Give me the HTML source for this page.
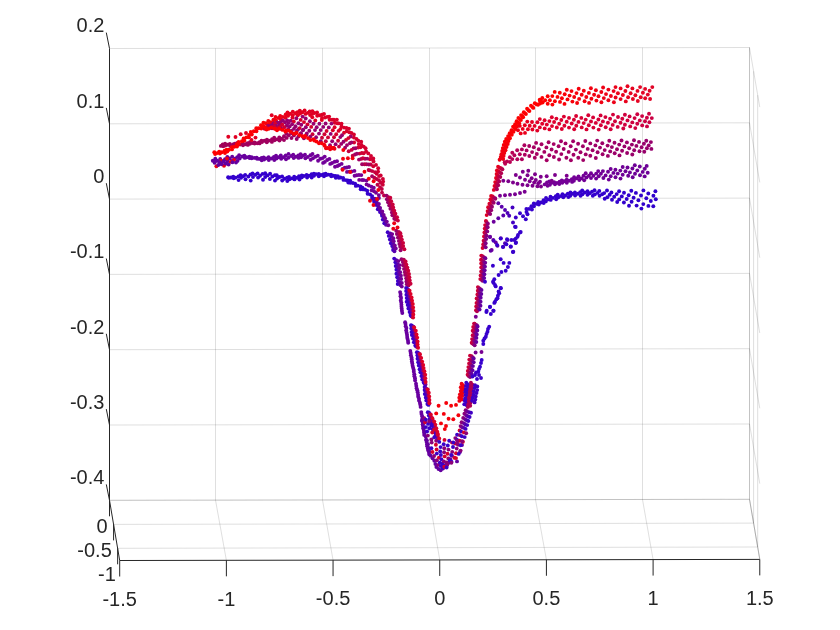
<!DOCTYPE html>
<html><head><meta charset="utf-8"><title>3D scatter plot</title>
<style>
html,body{margin:0;padding:0;background:#fff;}
svg{display:block;}
text{font-family:"Liberation Sans",Arial,Helvetica,sans-serif;font-size:20px;fill:#262626;}
</style></head><body>
<svg width="840" height="630" viewBox="0 0 840 630">
<rect width="840" height="630" fill="#ffffff"/>
<g id="frame" shape-rendering="auto">
<line x1="215.50" y1="48.33" x2="215.50" y2="500.13" stroke="#262626" stroke-width="1" stroke-opacity="0.15"/>
<line x1="322.50" y1="48.17" x2="322.50" y2="499.97" stroke="#262626" stroke-width="1" stroke-opacity="0.15"/>
<line x1="429.50" y1="48.00" x2="429.50" y2="499.80" stroke="#262626" stroke-width="1" stroke-opacity="0.15"/>
<line x1="535.50" y1="47.83" x2="535.50" y2="499.63" stroke="#262626" stroke-width="1" stroke-opacity="0.15"/>
<line x1="642.50" y1="47.67" x2="642.50" y2="499.47" stroke="#262626" stroke-width="1" stroke-opacity="0.15"/>
<line x1="749.50" y1="47.50" x2="749.50" y2="499.30" stroke="#262626" stroke-width="1" stroke-opacity="0.15"/>
<line x1="109.50" y1="48.50" x2="749.50" y2="47.50" stroke="#262626" stroke-width="1" stroke-opacity="0.15"/>
<line x1="109.50" y1="123.80" x2="749.50" y2="122.80" stroke="#262626" stroke-width="1" stroke-opacity="0.15"/>
<line x1="109.50" y1="199.10" x2="749.50" y2="198.10" stroke="#262626" stroke-width="1" stroke-opacity="0.15"/>
<line x1="109.50" y1="274.40" x2="749.50" y2="273.40" stroke="#262626" stroke-width="1" stroke-opacity="0.15"/>
<line x1="109.50" y1="349.70" x2="749.50" y2="348.70" stroke="#262626" stroke-width="1" stroke-opacity="0.15"/>
<line x1="109.50" y1="425.00" x2="749.50" y2="424.00" stroke="#262626" stroke-width="1" stroke-opacity="0.15"/>
<line x1="109.50" y1="500.30" x2="749.50" y2="499.30" stroke="#262626" stroke-width="1" stroke-opacity="0.15"/>
<line x1="113.58" y1="524.40" x2="753.58" y2="523.10" stroke="#262626" stroke-width="1" stroke-opacity="0.15"/>
<line x1="117.63" y1="548.30" x2="757.63" y2="547.00" stroke="#262626" stroke-width="1" stroke-opacity="0.15"/>
<line x1="215.50" y1="500.13" x2="226.38" y2="560.32" stroke="#262626" stroke-width="1" stroke-opacity="0.15"/>
<line x1="322.50" y1="499.97" x2="333.06" y2="560.13" stroke="#262626" stroke-width="1" stroke-opacity="0.15"/>
<line x1="429.50" y1="499.80" x2="439.74" y2="559.95" stroke="#262626" stroke-width="1" stroke-opacity="0.15"/>
<line x1="535.50" y1="499.63" x2="546.42" y2="559.77" stroke="#262626" stroke-width="1" stroke-opacity="0.15"/>
<line x1="642.50" y1="499.47" x2="653.10" y2="559.58" stroke="#262626" stroke-width="1" stroke-opacity="0.15"/>
<line x1="749.50" y1="499.30" x2="759.78" y2="559.40" stroke="#262626" stroke-width="1" stroke-opacity="0.15"/>
<line x1="109.50" y1="500.30" x2="749.50" y2="499.30" stroke="#262626" stroke-width="1" stroke-opacity="0.15"/>
<line x1="749.50" y1="47.50" x2="749.50" y2="499.30" stroke="#262626" stroke-width="1" stroke-opacity="0.15"/>
<line x1="749.50" y1="499.30" x2="759.78" y2="559.40" stroke="#262626" stroke-width="1" stroke-opacity="0.15"/>
<line x1="749.50" y1="47.50" x2="759.78" y2="107.10" stroke="#262626" stroke-width="1" stroke-opacity="0.15"/>
<line x1="749.50" y1="122.80" x2="759.78" y2="182.40" stroke="#262626" stroke-width="1" stroke-opacity="0.15"/>
<line x1="749.50" y1="198.10" x2="759.78" y2="257.70" stroke="#262626" stroke-width="1" stroke-opacity="0.15"/>
<line x1="749.50" y1="273.40" x2="759.78" y2="333.00" stroke="#262626" stroke-width="1" stroke-opacity="0.15"/>
<line x1="749.50" y1="348.70" x2="759.78" y2="408.30" stroke="#262626" stroke-width="1" stroke-opacity="0.15"/>
<line x1="749.50" y1="424.00" x2="759.78" y2="483.60" stroke="#262626" stroke-width="1" stroke-opacity="0.15"/>
<line x1="749.50" y1="499.30" x2="759.78" y2="558.90" stroke="#262626" stroke-width="1" stroke-opacity="0.15"/>
<line x1="753.58" y1="71.34" x2="753.58" y2="523.14" stroke="#262626" stroke-width="1" stroke-opacity="0.15"/>
<line x1="757.66" y1="95.18" x2="757.66" y2="546.98" stroke="#262626" stroke-width="1" stroke-opacity="0.15"/>
<line x1="109.50" y1="48.50" x2="109.50" y2="500.30" stroke="#262626" stroke-width="1"/>
<line x1="109.50" y1="500.30" x2="119.70" y2="560.50" stroke="#262626" stroke-width="1"/>
<line x1="119.70" y1="560.50" x2="759.78" y2="559.40" stroke="#262626" stroke-width="1"/>
<line x1="109.50" y1="48.50" x2="106.30" y2="32.60" stroke="#262626" stroke-width="1"/>
<line x1="109.50" y1="123.80" x2="106.30" y2="107.90" stroke="#262626" stroke-width="1"/>
<line x1="109.50" y1="199.10" x2="106.30" y2="183.20" stroke="#262626" stroke-width="1"/>
<line x1="109.50" y1="274.40" x2="106.30" y2="258.50" stroke="#262626" stroke-width="1"/>
<line x1="109.50" y1="349.70" x2="106.30" y2="333.80" stroke="#262626" stroke-width="1"/>
<line x1="109.50" y1="425.00" x2="106.30" y2="409.10" stroke="#262626" stroke-width="1"/>
<line x1="109.50" y1="500.30" x2="106.30" y2="484.40" stroke="#262626" stroke-width="1"/>
<line x1="109.50" y1="500.30" x2="109.50" y2="516.30" stroke="#262626" stroke-width="1"/>
<line x1="113.58" y1="524.40" x2="113.58" y2="540.40" stroke="#262626" stroke-width="1"/>
<line x1="117.63" y1="548.30" x2="117.63" y2="564.30" stroke="#262626" stroke-width="1"/>
<line x1="119.70" y1="560.50" x2="119.70" y2="576.50" stroke="#262626" stroke-width="1"/>
<line x1="226.38" y1="560.32" x2="226.38" y2="576.32" stroke="#262626" stroke-width="1"/>
<line x1="333.06" y1="560.13" x2="333.06" y2="576.13" stroke="#262626" stroke-width="1"/>
<line x1="439.74" y1="559.95" x2="439.74" y2="575.95" stroke="#262626" stroke-width="1"/>
<line x1="546.42" y1="559.77" x2="546.42" y2="575.77" stroke="#262626" stroke-width="1"/>
<line x1="653.10" y1="559.58" x2="653.10" y2="575.58" stroke="#262626" stroke-width="1"/>
<line x1="759.78" y1="559.40" x2="759.78" y2="575.40" stroke="#262626" stroke-width="1"/>
<text x="104.4" y="32.4" text-anchor="end">0.2</text>
<text x="104.4" y="107.7" text-anchor="end">0.1</text>
<text x="104.4" y="183.0" text-anchor="end">0</text>
<text x="104.4" y="258.3" text-anchor="end">-0.1</text>
<text x="104.4" y="333.6" text-anchor="end">-0.2</text>
<text x="104.4" y="408.9" text-anchor="end">-0.3</text>
<text x="104.4" y="484.2" text-anchor="end">-0.4</text>
<text x="107.7" y="532.8" text-anchor="end">0</text>
<text x="111.8" y="556.9" text-anchor="end">-0.5</text>
<text x="115.8" y="580.8" text-anchor="end">-1</text>
<text x="119.7" y="605.6" text-anchor="middle">-1.5</text>
<text x="226.4" y="605.5" text-anchor="middle">-1</text>
<text x="333.1" y="605.3" text-anchor="middle">-0.5</text>
<text x="439.7" y="605.2" text-anchor="middle">0</text>
<text x="546.4" y="605.1" text-anchor="middle">0.5</text>
<text x="653.1" y="604.9" text-anchor="middle">1</text>
<text x="759.8" y="604.8" text-anchor="middle">1.5</text>
</g>
<g id="dots">
<circle cx="542.3" cy="98.0" r="1.95" fill="#fe0001"/>
<circle cx="554.7" cy="91.9" r="1.95" fill="#fb0004"/>
<circle cx="566.8" cy="89.7" r="1.95" fill="#f80008"/>
<circle cx="578.7" cy="88.8" r="1.95" fill="#f5000c"/>
<circle cx="590.9" cy="88.3" r="1.95" fill="#f20110"/>
<circle cx="603.1" cy="87.5" r="1.95" fill="#ee0215"/>
<circle cx="615.5" cy="87.1" r="1.95" fill="#eb021a"/>
<circle cx="627.5" cy="86.3" r="1.95" fill="#e8031f"/>
<circle cx="640.1" cy="87.1" r="1.95" fill="#e40423"/>
<circle cx="652.3" cy="87.1" r="1.95" fill="#e10528"/>
<circle cx="547.7" cy="96.2" r="1.95" fill="#fd0002"/>
<circle cx="559.8" cy="92.8" r="1.95" fill="#fa0006"/>
<circle cx="571.5" cy="91.1" r="1.95" fill="#f7000a"/>
<circle cx="583.8" cy="90.8" r="1.95" fill="#f4000e"/>
<circle cx="595.9" cy="90.3" r="1.95" fill="#f10112"/>
<circle cx="608.4" cy="89.6" r="1.95" fill="#ed0217"/>
<circle cx="620.6" cy="88.4" r="1.95" fill="#ea031c"/>
<circle cx="632.4" cy="88.4" r="1.95" fill="#e60421"/>
<circle cx="645.1" cy="88.9" r="1.95" fill="#e30525"/>
<circle cx="540.0" cy="100.9" r="1.95" fill="#ff0000"/>
<circle cx="552.3" cy="96.1" r="1.95" fill="#fc0004"/>
<circle cx="564.7" cy="94.2" r="1.95" fill="#f90007"/>
<circle cx="576.5" cy="93.1" r="1.95" fill="#f6000b"/>
<circle cx="588.9" cy="92.9" r="1.95" fill="#f3010f"/>
<circle cx="601.3" cy="92.0" r="1.95" fill="#ef0114"/>
<circle cx="613.6" cy="91.1" r="1.95" fill="#ec0219"/>
<circle cx="625.4" cy="91.0" r="1.95" fill="#e8031e"/>
<circle cx="637.5" cy="90.9" r="1.95" fill="#e50422"/>
<circle cx="649.6" cy="90.7" r="1.95" fill="#e20527"/>
<circle cx="545.2" cy="100.3" r="1.95" fill="#fe0002"/>
<circle cx="557.5" cy="96.9" r="1.95" fill="#fb0005"/>
<circle cx="569.6" cy="95.6" r="1.95" fill="#f80009"/>
<circle cx="581.7" cy="94.8" r="1.95" fill="#f5000d"/>
<circle cx="594.1" cy="94.8" r="1.95" fill="#f10111"/>
<circle cx="606.0" cy="94.1" r="1.95" fill="#ee0216"/>
<circle cx="617.9" cy="93.3" r="1.95" fill="#ea031b"/>
<circle cx="630.6" cy="93.2" r="1.95" fill="#e70420"/>
<circle cx="642.9" cy="92.8" r="1.95" fill="#e40424"/>
<circle cx="549.9" cy="100.2" r="1.95" fill="#fc0003"/>
<circle cx="561.9" cy="98.2" r="1.95" fill="#f90007"/>
<circle cx="574.2" cy="97.0" r="1.95" fill="#f6000a"/>
<circle cx="586.3" cy="97.0" r="1.95" fill="#f3000f"/>
<circle cx="598.5" cy="96.2" r="1.95" fill="#f00113"/>
<circle cx="610.9" cy="96.0" r="1.95" fill="#ec0218"/>
<circle cx="622.9" cy="95.0" r="1.95" fill="#e9031d"/>
<circle cx="635.4" cy="95.3" r="1.95" fill="#e60422"/>
<circle cx="647.8" cy="94.6" r="1.95" fill="#e20526"/>
<circle cx="542.6" cy="102.6" r="1.95" fill="#fe0001"/>
<circle cx="554.9" cy="101.2" r="1.95" fill="#fb0004"/>
<circle cx="567.5" cy="99.4" r="1.95" fill="#f80008"/>
<circle cx="579.1" cy="98.9" r="1.95" fill="#f5000c"/>
<circle cx="591.4" cy="98.7" r="1.95" fill="#f20110"/>
<circle cx="603.8" cy="98.1" r="1.95" fill="#ee0215"/>
<circle cx="615.6" cy="97.5" r="1.95" fill="#eb021a"/>
<circle cx="628.1" cy="97.2" r="1.95" fill="#e8031f"/>
<circle cx="640.7" cy="97.3" r="1.95" fill="#e40423"/>
<circle cx="547.7" cy="103.8" r="1.95" fill="#fd0002"/>
<circle cx="560.0" cy="101.9" r="1.95" fill="#fa0006"/>
<circle cx="572.4" cy="101.6" r="1.95" fill="#f7000a"/>
<circle cx="584.6" cy="101.2" r="1.95" fill="#f4000e"/>
<circle cx="596.4" cy="100.6" r="1.95" fill="#f00112"/>
<circle cx="608.4" cy="100.2" r="1.95" fill="#ed0217"/>
<circle cx="620.6" cy="99.1" r="1.95" fill="#ea031c"/>
<circle cx="632.9" cy="99.0" r="1.95" fill="#e60421"/>
<circle cx="645.2" cy="98.2" r="1.95" fill="#e30525"/>
<circle cx="540.1" cy="103.5" r="1.95" fill="#ff0000"/>
<circle cx="552.4" cy="104.6" r="1.95" fill="#fc0004"/>
<circle cx="564.5" cy="103.9" r="1.95" fill="#f90007"/>
<circle cx="577.1" cy="103.0" r="1.95" fill="#f6000b"/>
<circle cx="589.1" cy="102.9" r="1.95" fill="#f20110"/>
<circle cx="601.4" cy="102.2" r="1.95" fill="#ef0114"/>
<circle cx="613.9" cy="102.3" r="1.95" fill="#ec0219"/>
<circle cx="625.8" cy="101.4" r="1.95" fill="#e8031e"/>
<circle cx="637.8" cy="101.0" r="1.95" fill="#e50423"/>
<circle cx="650.1" cy="99.0" r="1.95" fill="#e10527"/>
<circle cx="539.7" cy="99.8" r="1.95" fill="#ff0000"/>
<circle cx="534.8" cy="103.3" r="1.95" fill="#ff0000"/>
<circle cx="531.0" cy="105.8" r="1.95" fill="#fe0001"/>
<circle cx="527.1" cy="108.7" r="1.95" fill="#fe0001"/>
<circle cx="523.8" cy="112.3" r="1.95" fill="#fe0002"/>
<circle cx="521.1" cy="115.1" r="1.95" fill="#fd0002"/>
<circle cx="518.4" cy="117.9" r="1.95" fill="#fd0002"/>
<circle cx="516.6" cy="121.2" r="1.95" fill="#fc0003"/>
<circle cx="515.1" cy="124.2" r="1.95" fill="#fc0003"/>
<circle cx="513.1" cy="126.8" r="1.95" fill="#fc0003"/>
<circle cx="511.5" cy="130.3" r="1.95" fill="#fb0004"/>
<circle cx="509.7" cy="133.2" r="1.95" fill="#fb0004"/>
<circle cx="508.1" cy="136.1" r="1.95" fill="#fa0004"/>
<circle cx="506.2" cy="139.0" r="1.95" fill="#fa0005"/>
<circle cx="504.8" cy="141.7" r="1.95" fill="#f80006"/>
<circle cx="503.7" cy="144.9" r="1.95" fill="#f60009"/>
<circle cx="502.8" cy="148.1" r="1.95" fill="#f4000b"/>
<circle cx="502.2" cy="151.0" r="1.95" fill="#f2000d"/>
<circle cx="501.4" cy="154.3" r="1.95" fill="#f00010"/>
<circle cx="500.7" cy="156.9" r="1.95" fill="#ed0012"/>
<circle cx="499.6" cy="159.8" r="1.95" fill="#eb0014"/>
<circle cx="540.8" cy="100.8" r="1.95" fill="#ff0000"/>
<circle cx="536.5" cy="104.2" r="1.95" fill="#fe0000"/>
<circle cx="532.5" cy="107.0" r="1.95" fill="#fe0001"/>
<circle cx="528.5" cy="110.2" r="1.95" fill="#fe0001"/>
<circle cx="524.7" cy="113.1" r="1.95" fill="#fd0002"/>
<circle cx="522.4" cy="116.2" r="1.95" fill="#fd0002"/>
<circle cx="519.9" cy="119.0" r="1.95" fill="#fd0002"/>
<circle cx="517.8" cy="122.2" r="1.95" fill="#fc0003"/>
<circle cx="516.1" cy="125.2" r="1.95" fill="#fc0003"/>
<circle cx="514.6" cy="127.9" r="1.95" fill="#fc0004"/>
<circle cx="512.4" cy="131.3" r="1.95" fill="#fb0004"/>
<circle cx="510.8" cy="133.8" r="1.95" fill="#fb0004"/>
<circle cx="508.9" cy="136.8" r="1.95" fill="#fa0005"/>
<circle cx="507.8" cy="140.2" r="1.95" fill="#fa0005"/>
<circle cx="506.1" cy="143.2" r="1.95" fill="#f80007"/>
<circle cx="505.5" cy="146.1" r="1.95" fill="#f6000a"/>
<circle cx="504.1" cy="149.0" r="1.95" fill="#f3000c"/>
<circle cx="503.0" cy="151.7" r="1.95" fill="#f1000e"/>
<circle cx="502.8" cy="155.1" r="1.95" fill="#ef0010"/>
<circle cx="501.8" cy="158.3" r="1.95" fill="#ec0012"/>
<circle cx="542.3" cy="102.2" r="1.95" fill="#ff0000"/>
<circle cx="538.0" cy="104.8" r="1.95" fill="#fe0001"/>
<circle cx="533.3" cy="107.9" r="1.95" fill="#fe0001"/>
<circle cx="529.4" cy="111.1" r="1.95" fill="#fe0001"/>
<circle cx="525.9" cy="114.0" r="1.95" fill="#fd0002"/>
<circle cx="523.1" cy="117.2" r="1.95" fill="#fd0002"/>
<circle cx="520.9" cy="120.0" r="1.95" fill="#fc0002"/>
<circle cx="519.2" cy="123.2" r="1.95" fill="#fc0003"/>
<circle cx="517.2" cy="126.3" r="1.95" fill="#fc0003"/>
<circle cx="515.4" cy="129.0" r="1.95" fill="#fb0004"/>
<circle cx="513.5" cy="131.7" r="1.95" fill="#fb0004"/>
<circle cx="511.8" cy="134.8" r="1.95" fill="#fb0004"/>
<circle cx="510.0" cy="138.2" r="1.95" fill="#fa0005"/>
<circle cx="508.5" cy="141.0" r="1.95" fill="#f90006"/>
<circle cx="507.7" cy="144.0" r="1.95" fill="#f70008"/>
<circle cx="506.5" cy="147.0" r="1.95" fill="#f5000a"/>
<circle cx="505.5" cy="150.2" r="1.95" fill="#f2000c"/>
<circle cx="504.3" cy="153.0" r="1.95" fill="#f0000f"/>
<circle cx="503.6" cy="155.9" r="1.95" fill="#ee0011"/>
<circle cx="503.2" cy="159.0" r="1.95" fill="#ec0013"/>
<circle cx="527.3" cy="121.6" r="1.95" fill="#e9001f"/>
<circle cx="539.8" cy="119.1" r="1.95" fill="#e1002a"/>
<circle cx="551.8" cy="117.3" r="1.95" fill="#df002d"/>
<circle cx="563.9" cy="116.6" r="1.95" fill="#dc0030"/>
<circle cx="576.1" cy="116.0" r="1.95" fill="#da0032"/>
<circle cx="588.3" cy="115.3" r="1.95" fill="#d80035"/>
<circle cx="600.6" cy="115.4" r="1.95" fill="#d50038"/>
<circle cx="613.0" cy="114.6" r="1.95" fill="#d3003b"/>
<circle cx="624.9" cy="114.8" r="1.95" fill="#d0003e"/>
<circle cx="637.3" cy="114.2" r="1.95" fill="#ce0041"/>
<circle cx="649.0" cy="113.7" r="1.95" fill="#cc0043"/>
<circle cx="519.8" cy="125.9" r="1.95" fill="#ed0018"/>
<circle cx="532.0" cy="122.0" r="1.95" fill="#e60023"/>
<circle cx="544.6" cy="120.3" r="1.95" fill="#e0002b"/>
<circle cx="556.4" cy="118.6" r="1.95" fill="#de002e"/>
<circle cx="569.0" cy="117.9" r="1.95" fill="#db0031"/>
<circle cx="581.3" cy="117.9" r="1.95" fill="#d90034"/>
<circle cx="593.1" cy="117.4" r="1.95" fill="#d70036"/>
<circle cx="605.4" cy="117.1" r="1.95" fill="#d40039"/>
<circle cx="618.0" cy="117.0" r="1.95" fill="#d2003c"/>
<circle cx="629.6" cy="116.4" r="1.95" fill="#cf003f"/>
<circle cx="642.1" cy="116.1" r="1.95" fill="#cd0042"/>
<circle cx="524.8" cy="125.2" r="1.95" fill="#ea001d"/>
<circle cx="537.4" cy="122.3" r="1.95" fill="#e30028"/>
<circle cx="549.4" cy="121.1" r="1.95" fill="#df002c"/>
<circle cx="561.3" cy="120.0" r="1.95" fill="#dd002f"/>
<circle cx="573.9" cy="119.8" r="1.95" fill="#da0032"/>
<circle cx="585.7" cy="119.6" r="1.95" fill="#d80035"/>
<circle cx="598.4" cy="119.5" r="1.95" fill="#d60038"/>
<circle cx="610.1" cy="118.8" r="1.95" fill="#d3003a"/>
<circle cx="622.3" cy="118.8" r="1.95" fill="#d1003d"/>
<circle cx="634.6" cy="118.1" r="1.95" fill="#ce0040"/>
<circle cx="646.9" cy="117.8" r="1.95" fill="#cc0043"/>
<circle cx="518.0" cy="130.3" r="1.95" fill="#ee0016"/>
<circle cx="529.7" cy="125.8" r="1.95" fill="#e70021"/>
<circle cx="542.2" cy="123.8" r="1.95" fill="#e1002a"/>
<circle cx="554.1" cy="122.0" r="1.95" fill="#de002d"/>
<circle cx="566.7" cy="121.8" r="1.95" fill="#dc0030"/>
<circle cx="578.5" cy="121.9" r="1.95" fill="#d90033"/>
<circle cx="591.0" cy="121.4" r="1.95" fill="#d70036"/>
<circle cx="602.9" cy="121.4" r="1.95" fill="#d50039"/>
<circle cx="615.0" cy="121.2" r="1.95" fill="#d2003b"/>
<circle cx="627.5" cy="120.4" r="1.95" fill="#d0003e"/>
<circle cx="639.8" cy="120.4" r="1.95" fill="#cd0041"/>
<circle cx="651.8" cy="118.1" r="1.95" fill="#cb0044"/>
<circle cx="522.7" cy="128.9" r="1.95" fill="#eb001b"/>
<circle cx="534.6" cy="125.9" r="1.95" fill="#e40026"/>
<circle cx="546.8" cy="124.6" r="1.95" fill="#e0002c"/>
<circle cx="559.2" cy="123.7" r="1.95" fill="#dd002e"/>
<circle cx="571.7" cy="123.5" r="1.95" fill="#db0031"/>
<circle cx="583.7" cy="123.1" r="1.95" fill="#d80034"/>
<circle cx="595.8" cy="122.9" r="1.95" fill="#d60037"/>
<circle cx="607.9" cy="122.8" r="1.95" fill="#d4003a"/>
<circle cx="620.5" cy="122.8" r="1.95" fill="#d1003d"/>
<circle cx="632.3" cy="122.4" r="1.95" fill="#cf003f"/>
<circle cx="645.0" cy="121.2" r="1.95" fill="#cc0042"/>
<circle cx="527.9" cy="129.2" r="1.95" fill="#e8001f"/>
<circle cx="539.8" cy="127.4" r="1.95" fill="#e1002a"/>
<circle cx="552.0" cy="126.1" r="1.95" fill="#df002d"/>
<circle cx="564.4" cy="125.8" r="1.95" fill="#dc0030"/>
<circle cx="576.3" cy="125.7" r="1.95" fill="#da0032"/>
<circle cx="588.8" cy="125.3" r="1.95" fill="#d70035"/>
<circle cx="600.8" cy="125.2" r="1.95" fill="#d50038"/>
<circle cx="612.7" cy="124.9" r="1.95" fill="#d3003b"/>
<circle cx="624.9" cy="124.8" r="1.95" fill="#d0003e"/>
<circle cx="637.3" cy="123.7" r="1.95" fill="#ce0041"/>
<circle cx="649.4" cy="122.3" r="1.95" fill="#cb0043"/>
<circle cx="520.7" cy="133.4" r="1.95" fill="#ed0019"/>
<circle cx="532.4" cy="129.5" r="1.95" fill="#e50023"/>
<circle cx="544.7" cy="128.4" r="1.95" fill="#e0002b"/>
<circle cx="556.8" cy="127.5" r="1.95" fill="#de002e"/>
<circle cx="569.0" cy="127.6" r="1.95" fill="#db0031"/>
<circle cx="581.7" cy="127.4" r="1.95" fill="#d90034"/>
<circle cx="593.4" cy="127.6" r="1.95" fill="#d60036"/>
<circle cx="605.7" cy="127.2" r="1.95" fill="#d40039"/>
<circle cx="617.7" cy="126.9" r="1.95" fill="#d2003c"/>
<circle cx="630.2" cy="126.4" r="1.95" fill="#cf003f"/>
<circle cx="642.2" cy="125.4" r="1.95" fill="#cd0042"/>
<circle cx="525.0" cy="132.9" r="1.95" fill="#ea001d"/>
<circle cx="537.3" cy="130.6" r="1.95" fill="#e20028"/>
<circle cx="549.4" cy="129.4" r="1.95" fill="#df002c"/>
<circle cx="561.8" cy="129.0" r="1.95" fill="#dd002f"/>
<circle cx="574.2" cy="129.2" r="1.95" fill="#da0032"/>
<circle cx="586.5" cy="129.4" r="1.95" fill="#d80035"/>
<circle cx="598.7" cy="129.6" r="1.95" fill="#d50038"/>
<circle cx="610.7" cy="129.2" r="1.95" fill="#d3003a"/>
<circle cx="623.3" cy="128.5" r="1.95" fill="#d1003d"/>
<circle cx="635.3" cy="128.1" r="1.95" fill="#ce0040"/>
<circle cx="647.0" cy="126.4" r="1.95" fill="#cc0043"/>
<circle cx="512.3" cy="152.7" r="1.95" fill="#b70056"/>
<circle cx="524.4" cy="145.2" r="1.95" fill="#ad005e"/>
<circle cx="536.1" cy="142.9" r="1.95" fill="#a70063"/>
<circle cx="548.6" cy="142.3" r="1.95" fill="#a50064"/>
<circle cx="561.0" cy="141.2" r="1.95" fill="#a30065"/>
<circle cx="573.1" cy="141.2" r="1.95" fill="#a20066"/>
<circle cx="585.3" cy="141.0" r="1.95" fill="#a00067"/>
<circle cx="597.2" cy="140.6" r="1.95" fill="#9e0068"/>
<circle cx="609.3" cy="140.7" r="1.95" fill="#9c0069"/>
<circle cx="621.5" cy="140.5" r="1.95" fill="#9a006a"/>
<circle cx="634.0" cy="140.3" r="1.95" fill="#99006b"/>
<circle cx="646.3" cy="140.8" r="1.95" fill="#97006c"/>
<circle cx="504.7" cy="162.2" r="1.95" fill="#bd0051"/>
<circle cx="517.2" cy="150.3" r="1.95" fill="#b30059"/>
<circle cx="529.2" cy="146.0" r="1.95" fill="#a90061"/>
<circle cx="541.5" cy="144.3" r="1.95" fill="#a60063"/>
<circle cx="553.7" cy="144.1" r="1.95" fill="#a50064"/>
<circle cx="565.5" cy="143.4" r="1.95" fill="#a30065"/>
<circle cx="578.1" cy="143.8" r="1.95" fill="#a10066"/>
<circle cx="590.3" cy="143.4" r="1.95" fill="#9f0067"/>
<circle cx="602.3" cy="143.2" r="1.95" fill="#9d0068"/>
<circle cx="614.5" cy="142.8" r="1.95" fill="#9c0069"/>
<circle cx="626.9" cy="142.4" r="1.95" fill="#9a006a"/>
<circle cx="639.0" cy="141.9" r="1.95" fill="#98006b"/>
<circle cx="650.9" cy="142.1" r="1.95" fill="#96006c"/>
<circle cx="509.9" cy="157.3" r="1.95" fill="#b90054"/>
<circle cx="521.9" cy="149.4" r="1.95" fill="#af005c"/>
<circle cx="533.8" cy="147.3" r="1.95" fill="#a70062"/>
<circle cx="546.4" cy="147.4" r="1.95" fill="#a60063"/>
<circle cx="558.6" cy="146.2" r="1.95" fill="#a40064"/>
<circle cx="570.7" cy="146.3" r="1.95" fill="#a20065"/>
<circle cx="582.9" cy="146.3" r="1.95" fill="#a00066"/>
<circle cx="595.4" cy="145.4" r="1.95" fill="#9e0067"/>
<circle cx="607.6" cy="145.6" r="1.95" fill="#9d0068"/>
<circle cx="619.2" cy="144.6" r="1.95" fill="#9b0069"/>
<circle cx="631.9" cy="144.6" r="1.95" fill="#99006a"/>
<circle cx="643.9" cy="143.8" r="1.95" fill="#97006b"/>
<circle cx="514.4" cy="155.2" r="1.95" fill="#b50057"/>
<circle cx="526.6" cy="150.4" r="1.95" fill="#ab0060"/>
<circle cx="538.8" cy="149.3" r="1.95" fill="#a70063"/>
<circle cx="551.6" cy="149.5" r="1.95" fill="#a50064"/>
<circle cx="563.7" cy="149.0" r="1.95" fill="#a30065"/>
<circle cx="575.9" cy="149.6" r="1.95" fill="#a10066"/>
<circle cx="587.7" cy="148.9" r="1.95" fill="#9f0067"/>
<circle cx="600.0" cy="147.6" r="1.95" fill="#9e0068"/>
<circle cx="611.9" cy="147.1" r="1.95" fill="#9c0069"/>
<circle cx="624.4" cy="146.4" r="1.95" fill="#9a006a"/>
<circle cx="636.4" cy="145.9" r="1.95" fill="#98006b"/>
<circle cx="648.7" cy="145.4" r="1.95" fill="#96006c"/>
<circle cx="507.1" cy="161.4" r="1.95" fill="#bb0052"/>
<circle cx="519.8" cy="154.2" r="1.95" fill="#b1005b"/>
<circle cx="532.1" cy="152.1" r="1.95" fill="#a80062"/>
<circle cx="544.3" cy="151.9" r="1.95" fill="#a60063"/>
<circle cx="556.1" cy="151.7" r="1.95" fill="#a40064"/>
<circle cx="568.7" cy="151.9" r="1.95" fill="#a20065"/>
<circle cx="580.5" cy="152.3" r="1.95" fill="#a10066"/>
<circle cx="592.6" cy="150.3" r="1.95" fill="#9f0067"/>
<circle cx="604.7" cy="150.1" r="1.95" fill="#9d0068"/>
<circle cx="617.0" cy="149.3" r="1.95" fill="#9b0069"/>
<circle cx="629.2" cy="148.3" r="1.95" fill="#99006a"/>
<circle cx="641.6" cy="147.2" r="1.95" fill="#98006b"/>
<circle cx="512.3" cy="159.1" r="1.95" fill="#b70056"/>
<circle cx="524.8" cy="154.8" r="1.95" fill="#ad005e"/>
<circle cx="536.8" cy="154.0" r="1.95" fill="#a70063"/>
<circle cx="549.3" cy="155.2" r="1.95" fill="#a50064"/>
<circle cx="561.3" cy="154.1" r="1.95" fill="#a30065"/>
<circle cx="573.5" cy="154.8" r="1.95" fill="#a20066"/>
<circle cx="585.7" cy="154.4" r="1.95" fill="#a00067"/>
<circle cx="597.6" cy="152.3" r="1.95" fill="#9e0068"/>
<circle cx="610.2" cy="151.4" r="1.95" fill="#9c0069"/>
<circle cx="622.1" cy="150.8" r="1.95" fill="#9a006a"/>
<circle cx="634.2" cy="150.3" r="1.95" fill="#99006b"/>
<circle cx="646.9" cy="148.3" r="1.95" fill="#97006c"/>
<circle cx="505.2" cy="163.7" r="1.95" fill="#bd0051"/>
<circle cx="517.3" cy="159.3" r="1.95" fill="#b30059"/>
<circle cx="529.3" cy="156.0" r="1.95" fill="#a80062"/>
<circle cx="541.5" cy="156.9" r="1.95" fill="#a60063"/>
<circle cx="553.9" cy="157.0" r="1.95" fill="#a40064"/>
<circle cx="566.4" cy="157.7" r="1.95" fill="#a30065"/>
<circle cx="578.3" cy="157.7" r="1.95" fill="#a10066"/>
<circle cx="590.3" cy="155.8" r="1.95" fill="#9f0067"/>
<circle cx="602.6" cy="154.2" r="1.95" fill="#9d0068"/>
<circle cx="614.7" cy="153.3" r="1.95" fill="#9b0069"/>
<circle cx="627.1" cy="153.0" r="1.95" fill="#9a006a"/>
<circle cx="639.5" cy="151.3" r="1.95" fill="#98006b"/>
<circle cx="651.4" cy="148.9" r="1.95" fill="#96006c"/>
<circle cx="510.0" cy="162.0" r="1.95" fill="#b90054"/>
<circle cx="521.9" cy="159.2" r="1.95" fill="#af005d"/>
<circle cx="534.8" cy="157.8" r="1.95" fill="#a70062"/>
<circle cx="546.7" cy="160.2" r="1.95" fill="#a60063"/>
<circle cx="559.1" cy="159.5" r="1.95" fill="#a40064"/>
<circle cx="570.9" cy="160.2" r="1.95" fill="#a20065"/>
<circle cx="583.2" cy="160.1" r="1.95" fill="#a00066"/>
<circle cx="595.8" cy="158.0" r="1.95" fill="#9e0067"/>
<circle cx="607.9" cy="155.9" r="1.95" fill="#9d0068"/>
<circle cx="619.5" cy="155.4" r="1.95" fill="#9b0069"/>
<circle cx="632.3" cy="154.5" r="1.95" fill="#99006a"/>
<circle cx="644.3" cy="151.8" r="1.95" fill="#97006b"/>
<circle cx="549.3" cy="181.4" r="1.95" fill="#750096"/>
<circle cx="561.8" cy="180.4" r="1.95" fill="#740096"/>
<circle cx="574.1" cy="177.3" r="1.95" fill="#730096"/>
<circle cx="585.7" cy="173.3" r="1.95" fill="#720096"/>
<circle cx="598.2" cy="171.1" r="1.95" fill="#710096"/>
<circle cx="610.7" cy="169.0" r="1.95" fill="#700096"/>
<circle cx="622.7" cy="167.0" r="1.95" fill="#6e0096"/>
<circle cx="634.8" cy="165.2" r="1.95" fill="#6d0096"/>
<circle cx="646.7" cy="165.9" r="1.95" fill="#6c0096"/>
<circle cx="554.2" cy="182.2" r="1.95" fill="#750096"/>
<circle cx="566.7" cy="179.7" r="1.95" fill="#740096"/>
<circle cx="578.5" cy="176.5" r="1.95" fill="#730096"/>
<circle cx="591.0" cy="173.3" r="1.95" fill="#710096"/>
<circle cx="602.9" cy="171.1" r="1.95" fill="#700096"/>
<circle cx="615.4" cy="169.7" r="1.95" fill="#6f0096"/>
<circle cx="627.5" cy="167.5" r="1.95" fill="#6e0096"/>
<circle cx="639.8" cy="166.5" r="1.95" fill="#6d0096"/>
<circle cx="547.0" cy="182.4" r="1.95" fill="#760096"/>
<circle cx="559.6" cy="181.8" r="1.95" fill="#750096"/>
<circle cx="571.8" cy="179.2" r="1.95" fill="#730096"/>
<circle cx="583.5" cy="175.8" r="1.95" fill="#720096"/>
<circle cx="596.2" cy="173.6" r="1.95" fill="#710096"/>
<circle cx="608.0" cy="171.8" r="1.95" fill="#700096"/>
<circle cx="620.3" cy="170.6" r="1.95" fill="#6f0096"/>
<circle cx="632.4" cy="168.5" r="1.95" fill="#6d0096"/>
<circle cx="644.8" cy="168.7" r="1.95" fill="#6c0096"/>
<circle cx="551.9" cy="182.8" r="1.95" fill="#750096"/>
<circle cx="564.1" cy="181.3" r="1.95" fill="#740096"/>
<circle cx="576.6" cy="178.4" r="1.95" fill="#730096"/>
<circle cx="588.9" cy="175.7" r="1.95" fill="#720096"/>
<circle cx="600.9" cy="173.8" r="1.95" fill="#710096"/>
<circle cx="613.4" cy="172.9" r="1.95" fill="#6f0096"/>
<circle cx="625.5" cy="171.2" r="1.95" fill="#6e0096"/>
<circle cx="637.3" cy="170.5" r="1.95" fill="#6d0096"/>
<circle cx="544.7" cy="184.4" r="1.95" fill="#760096"/>
<circle cx="557.0" cy="182.9" r="1.95" fill="#750096"/>
<circle cx="569.0" cy="180.8" r="1.95" fill="#740096"/>
<circle cx="581.5" cy="178.4" r="1.95" fill="#720096"/>
<circle cx="593.4" cy="175.8" r="1.95" fill="#710096"/>
<circle cx="605.6" cy="175.4" r="1.95" fill="#700096"/>
<circle cx="617.7" cy="173.6" r="1.95" fill="#6f0096"/>
<circle cx="629.9" cy="172.4" r="1.95" fill="#6e0096"/>
<circle cx="642.7" cy="171.9" r="1.95" fill="#6d0096"/>
<circle cx="549.9" cy="184.8" r="1.95" fill="#750096"/>
<circle cx="562.3" cy="182.8" r="1.95" fill="#740096"/>
<circle cx="573.9" cy="180.7" r="1.95" fill="#730096"/>
<circle cx="586.5" cy="177.5" r="1.95" fill="#720096"/>
<circle cx="598.7" cy="176.3" r="1.95" fill="#710096"/>
<circle cx="610.7" cy="176.2" r="1.95" fill="#700096"/>
<circle cx="622.7" cy="174.7" r="1.95" fill="#6e0096"/>
<circle cx="635.0" cy="173.7" r="1.95" fill="#6d0096"/>
<circle cx="647.7" cy="172.7" r="1.95" fill="#6c0096"/>
<circle cx="555.0" cy="184.3" r="1.95" fill="#750096"/>
<circle cx="566.8" cy="182.7" r="1.95" fill="#740096"/>
<circle cx="579.3" cy="180.0" r="1.95" fill="#730096"/>
<circle cx="591.0" cy="178.1" r="1.95" fill="#710096"/>
<circle cx="603.4" cy="178.0" r="1.95" fill="#700096"/>
<circle cx="615.5" cy="177.3" r="1.95" fill="#6f0096"/>
<circle cx="628.2" cy="175.8" r="1.95" fill="#6e0096"/>
<circle cx="640.0" cy="175.3" r="1.95" fill="#6d0096"/>
<circle cx="547.6" cy="185.8" r="1.95" fill="#760096"/>
<circle cx="559.3" cy="184.0" r="1.95" fill="#740096"/>
<circle cx="572.1" cy="181.9" r="1.95" fill="#730096"/>
<circle cx="584.2" cy="180.3" r="1.95" fill="#720096"/>
<circle cx="596.1" cy="178.6" r="1.95" fill="#710096"/>
<circle cx="608.8" cy="179.6" r="1.95" fill="#700096"/>
<circle cx="620.5" cy="178.6" r="1.95" fill="#6f0096"/>
<circle cx="632.7" cy="177.3" r="1.95" fill="#6d0096"/>
<circle cx="644.7" cy="176.4" r="1.95" fill="#6c0096"/>
<circle cx="503.3" cy="180.8" r="1.95" fill="#7d008c"/>
<circle cx="508.3" cy="181.2" r="1.95" fill="#7d008c"/>
<circle cx="513.0" cy="182.5" r="1.95" fill="#7d008c"/>
<circle cx="517.5" cy="183.8" r="1.95" fill="#7d008c"/>
<circle cx="522.5" cy="184.7" r="1.95" fill="#7d008c"/>
<circle cx="527.5" cy="185.3" r="1.95" fill="#7d008c"/>
<circle cx="532.5" cy="185.8" r="1.95" fill="#7d008c"/>
<circle cx="537.5" cy="186.2" r="1.95" fill="#7d008c"/>
<circle cx="541.0" cy="186.5" r="1.95" fill="#7d008c"/>
<circle cx="515.8" cy="175.0" r="1.95" fill="#7d008c"/>
<circle cx="520.0" cy="177.5" r="1.95" fill="#7d008c"/>
<circle cx="525.0" cy="179.7" r="1.95" fill="#7d008c"/>
<circle cx="529.7" cy="181.3" r="1.95" fill="#7d008c"/>
<circle cx="534.2" cy="182.5" r="1.95" fill="#7d008c"/>
<circle cx="538.3" cy="183.3" r="1.95" fill="#7d008c"/>
<circle cx="522.8" cy="171.7" r="1.95" fill="#7d008c"/>
<circle cx="527.5" cy="175.3" r="1.95" fill="#7d008c"/>
<circle cx="531.7" cy="178.3" r="1.95" fill="#7d008c"/>
<circle cx="535.8" cy="180.0" r="1.95" fill="#7d008c"/>
<circle cx="540.0" cy="181.7" r="1.95" fill="#7d008c"/>
<circle cx="528.3" cy="170.8" r="1.95" fill="#7d008c"/>
<circle cx="535.0" cy="174.2" r="1.95" fill="#7d008c"/>
<circle cx="540.8" cy="176.7" r="1.95" fill="#7d008c"/>
<circle cx="546.7" cy="176.2" r="1.95" fill="#7d008c"/>
<circle cx="551.7" cy="180.8" r="1.95" fill="#7d008c"/>
<circle cx="555.0" cy="175.0" r="1.95" fill="#7d008c"/>
<circle cx="566.7" cy="175.8" r="1.95" fill="#7d008c"/>
<circle cx="495.0" cy="198.3" r="1.95" fill="#780091"/>
<circle cx="500.0" cy="195.8" r="1.95" fill="#780091"/>
<circle cx="505.0" cy="195.3" r="1.95" fill="#780091"/>
<circle cx="510.0" cy="194.7" r="1.95" fill="#780091"/>
<circle cx="515.0" cy="194.2" r="1.95" fill="#780091"/>
<circle cx="520.0" cy="193.0" r="1.95" fill="#780091"/>
<circle cx="524.7" cy="191.7" r="1.95" fill="#780091"/>
<circle cx="533.8" cy="203.5" r="1.95" fill="#3600cd"/>
<circle cx="546.0" cy="198.0" r="1.95" fill="#3600cd"/>
<circle cx="557.7" cy="194.6" r="1.95" fill="#3500cd"/>
<circle cx="570.4" cy="192.5" r="1.95" fill="#3500cd"/>
<circle cx="582.2" cy="190.5" r="1.95" fill="#3400cd"/>
<circle cx="594.5" cy="190.2" r="1.95" fill="#3300cd"/>
<circle cx="607.0" cy="190.5" r="1.95" fill="#3300cd"/>
<circle cx="619.1" cy="191.3" r="1.95" fill="#3200cd"/>
<circle cx="631.3" cy="190.7" r="1.95" fill="#3100cd"/>
<circle cx="643.4" cy="190.4" r="1.95" fill="#3100cd"/>
<circle cx="655.4" cy="191.3" r="1.95" fill="#3000cd"/>
<circle cx="526.4" cy="209.0" r="1.95" fill="#3700cd"/>
<circle cx="538.2" cy="202.0" r="1.95" fill="#3600cd"/>
<circle cx="550.5" cy="196.8" r="1.95" fill="#3600cd"/>
<circle cx="562.5" cy="194.1" r="1.95" fill="#3500cd"/>
<circle cx="574.9" cy="192.4" r="1.95" fill="#3400cd"/>
<circle cx="587.5" cy="191.3" r="1.95" fill="#3400cd"/>
<circle cx="599.3" cy="190.9" r="1.95" fill="#3300cd"/>
<circle cx="611.4" cy="192.4" r="1.95" fill="#3200cd"/>
<circle cx="624.0" cy="192.8" r="1.95" fill="#3200cd"/>
<circle cx="635.9" cy="192.9" r="1.95" fill="#3100cd"/>
<circle cx="648.3" cy="193.5" r="1.95" fill="#3000cd"/>
<circle cx="531.4" cy="206.3" r="1.95" fill="#3700cd"/>
<circle cx="543.5" cy="200.2" r="1.95" fill="#3600cd"/>
<circle cx="555.8" cy="196.2" r="1.95" fill="#3500cd"/>
<circle cx="567.8" cy="193.8" r="1.95" fill="#3500cd"/>
<circle cx="580.2" cy="192.1" r="1.95" fill="#3400cd"/>
<circle cx="592.0" cy="191.7" r="1.95" fill="#3300cd"/>
<circle cx="604.2" cy="193.1" r="1.95" fill="#3300cd"/>
<circle cx="616.7" cy="194.1" r="1.95" fill="#3200cd"/>
<circle cx="628.7" cy="195.3" r="1.95" fill="#3100cd"/>
<circle cx="641.0" cy="195.5" r="1.95" fill="#3100cd"/>
<circle cx="653.4" cy="195.8" r="1.95" fill="#3000cd"/>
<circle cx="536.5" cy="203.9" r="1.95" fill="#3600cd"/>
<circle cx="548.3" cy="199.4" r="1.95" fill="#3600cd"/>
<circle cx="560.8" cy="196.1" r="1.95" fill="#3500cd"/>
<circle cx="572.4" cy="193.7" r="1.95" fill="#3400cd"/>
<circle cx="584.7" cy="192.4" r="1.95" fill="#3400cd"/>
<circle cx="597.5" cy="192.9" r="1.95" fill="#3300cd"/>
<circle cx="609.7" cy="194.7" r="1.95" fill="#3200cd"/>
<circle cx="621.8" cy="196.4" r="1.95" fill="#3200cd"/>
<circle cx="633.6" cy="197.8" r="1.95" fill="#3100cd"/>
<circle cx="646.3" cy="198.3" r="1.95" fill="#3000cd"/>
<circle cx="529.0" cy="208.9" r="1.95" fill="#3700cd"/>
<circle cx="540.9" cy="202.5" r="1.95" fill="#3600cd"/>
<circle cx="553.0" cy="197.9" r="1.95" fill="#3500cd"/>
<circle cx="565.3" cy="195.5" r="1.95" fill="#3500cd"/>
<circle cx="577.8" cy="193.7" r="1.95" fill="#3400cd"/>
<circle cx="589.6" cy="193.2" r="1.95" fill="#3300cd"/>
<circle cx="602.2" cy="194.3" r="1.95" fill="#3300cd"/>
<circle cx="614.2" cy="196.8" r="1.95" fill="#3200cd"/>
<circle cx="626.7" cy="199.0" r="1.95" fill="#3200cd"/>
<circle cx="638.4" cy="200.3" r="1.95" fill="#3100cd"/>
<circle cx="650.8" cy="201.0" r="1.95" fill="#3000cd"/>
<circle cx="533.9" cy="206.2" r="1.95" fill="#3600cd"/>
<circle cx="545.8" cy="201.4" r="1.95" fill="#3600cd"/>
<circle cx="558.2" cy="197.4" r="1.95" fill="#3500cd"/>
<circle cx="570.3" cy="195.8" r="1.95" fill="#3500cd"/>
<circle cx="582.5" cy="194.3" r="1.95" fill="#3400cd"/>
<circle cx="594.8" cy="194.4" r="1.95" fill="#3300cd"/>
<circle cx="607.3" cy="197.2" r="1.95" fill="#3300cd"/>
<circle cx="619.2" cy="199.4" r="1.95" fill="#3200cd"/>
<circle cx="631.6" cy="201.8" r="1.95" fill="#3100cd"/>
<circle cx="643.3" cy="204.1" r="1.95" fill="#3100cd"/>
<circle cx="655.8" cy="199.3" r="1.95" fill="#3000cd"/>
<circle cx="526.5" cy="212.0" r="1.95" fill="#3700cd"/>
<circle cx="538.8" cy="204.5" r="1.95" fill="#3600cd"/>
<circle cx="550.7" cy="199.9" r="1.95" fill="#3600cd"/>
<circle cx="563.3" cy="197.3" r="1.95" fill="#3500cd"/>
<circle cx="575.1" cy="195.6" r="1.95" fill="#3400cd"/>
<circle cx="587.5" cy="194.8" r="1.95" fill="#3400cd"/>
<circle cx="599.6" cy="195.7" r="1.95" fill="#3300cd"/>
<circle cx="612.0" cy="199.7" r="1.95" fill="#3200cd"/>
<circle cx="623.9" cy="202.5" r="1.95" fill="#3200cd"/>
<circle cx="636.6" cy="205.6" r="1.95" fill="#3100cd"/>
<circle cx="648.4" cy="205.9" r="1.95" fill="#3000cd"/>
<circle cx="531.9" cy="209.5" r="1.95" fill="#3700cd"/>
<circle cx="543.7" cy="203.0" r="1.95" fill="#3600cd"/>
<circle cx="556.2" cy="199.2" r="1.95" fill="#3500cd"/>
<circle cx="568.4" cy="197.1" r="1.95" fill="#3500cd"/>
<circle cx="580.6" cy="195.7" r="1.95" fill="#3400cd"/>
<circle cx="592.8" cy="195.8" r="1.95" fill="#3300cd"/>
<circle cx="604.7" cy="198.7" r="1.95" fill="#3300cd"/>
<circle cx="617.2" cy="202.0" r="1.95" fill="#3200cd"/>
<circle cx="629.0" cy="205.8" r="1.95" fill="#3100cd"/>
<circle cx="641.4" cy="208.6" r="1.95" fill="#3100cd"/>
<circle cx="653.3" cy="206.2" r="1.95" fill="#3000cd"/>
<circle cx="498.3" cy="203.3" r="1.95" fill="#6200a5"/>
<circle cx="501.7" cy="206.7" r="1.95" fill="#5b00ac"/>
<circle cx="505.0" cy="210.0" r="1.95" fill="#5400b2"/>
<circle cx="507.5" cy="213.0" r="1.95" fill="#4f00b7"/>
<circle cx="509.2" cy="215.8" r="1.95" fill="#4b00ba"/>
<circle cx="512.5" cy="207.5" r="1.95" fill="#4400c1"/>
<circle cx="503.3" cy="215.5" r="1.95" fill="#5800af"/>
<circle cx="498.3" cy="218.3" r="1.95" fill="#6200a5"/>
<circle cx="493.7" cy="221.7" r="1.95" fill="#6c009c"/>
<circle cx="520.0" cy="213.3" r="1.95" fill="#3700cd"/>
<circle cx="523.0" cy="216.3" r="1.95" fill="#3700cd"/>
<circle cx="525.8" cy="219.2" r="1.95" fill="#3700cd"/>
<circle cx="527.5" cy="214.2" r="1.95" fill="#3700cd"/>
<circle cx="515.8" cy="217.5" r="1.95" fill="#3d00c7"/>
<circle cx="513.0" cy="222.5" r="1.95" fill="#4300c2"/>
<circle cx="515.0" cy="226.7" r="1.95" fill="#3f00c6"/>
<circle cx="520.0" cy="232.5" r="1.95" fill="#3700cd"/>
<circle cx="517.5" cy="236.7" r="1.95" fill="#3a00cb"/>
<circle cx="514.2" cy="240.0" r="1.95" fill="#4100c4"/>
<circle cx="516.0" cy="242.5" r="1.95" fill="#3d00c8"/>
<circle cx="510.8" cy="246.7" r="1.95" fill="#4800bd"/>
<circle cx="513.3" cy="251.7" r="1.95" fill="#4300c2"/>
<circle cx="507.5" cy="240.0" r="1.95" fill="#4f00b7"/>
<circle cx="505.0" cy="243.3" r="1.95" fill="#5400b2"/>
<circle cx="503.3" cy="246.7" r="1.95" fill="#5800af"/>
<circle cx="500.8" cy="238.3" r="1.95" fill="#5d00aa"/>
<circle cx="495.8" cy="242.5" r="1.95" fill="#6800a0"/>
<circle cx="491.7" cy="250.0" r="1.95" fill="#700098"/>
<circle cx="490.0" cy="236.7" r="1.95" fill="#740095"/>
<circle cx="493.3" cy="240.0" r="1.95" fill="#6d009b"/>
<circle cx="497.5" cy="245.8" r="1.95" fill="#6400a4"/>
<circle cx="498.1" cy="166.7" r="1.95" fill="#e8001c"/>
<circle cx="496.9" cy="170.4" r="1.95" fill="#e7001d"/>
<circle cx="496.6" cy="174.0" r="1.95" fill="#e6001e"/>
<circle cx="496.0" cy="178.0" r="1.95" fill="#e5001f"/>
<circle cx="495.2" cy="182.1" r="1.95" fill="#e40020"/>
<circle cx="494.5" cy="185.9" r="1.95" fill="#e30021"/>
<circle cx="493.8" cy="189.9" r="1.95" fill="#e20022"/>
<circle cx="499.5" cy="167.6" r="1.95" fill="#dd0027"/>
<circle cx="498.6" cy="171.3" r="1.95" fill="#dc0028"/>
<circle cx="497.5" cy="175.3" r="1.95" fill="#da002a"/>
<circle cx="496.9" cy="179.0" r="1.95" fill="#d9002b"/>
<circle cx="496.3" cy="183.2" r="1.95" fill="#d7002d"/>
<circle cx="495.4" cy="186.8" r="1.95" fill="#d6002e"/>
<circle cx="501.0" cy="168.2" r="1.95" fill="#c9003b"/>
<circle cx="499.7" cy="172.3" r="1.95" fill="#c7003d"/>
<circle cx="498.7" cy="176.2" r="1.95" fill="#c5003f"/>
<circle cx="498.0" cy="179.9" r="1.95" fill="#c30041"/>
<circle cx="497.2" cy="183.8" r="1.95" fill="#c10043"/>
<circle cx="496.4" cy="188.1" r="1.95" fill="#be0046"/>
<circle cx="502.4" cy="169.2" r="1.95" fill="#b6004e"/>
<circle cx="501.2" cy="173.3" r="1.95" fill="#b30051"/>
<circle cx="500.3" cy="177.0" r="1.95" fill="#b00054"/>
<circle cx="499.2" cy="181.4" r="1.95" fill="#ad0057"/>
<circle cx="498.2" cy="185.2" r="1.95" fill="#aa005a"/>
<circle cx="496.9" cy="189.2" r="1.95" fill="#a7005d"/>
<circle cx="491.1" cy="196.0" r="1.95" fill="#e00024"/>
<circle cx="490.4" cy="199.4" r="1.95" fill="#e00024"/>
<circle cx="489.4" cy="203.8" r="1.95" fill="#df0025"/>
<circle cx="488.1" cy="207.3" r="1.95" fill="#de0026"/>
<circle cx="487.6" cy="211.1" r="1.95" fill="#dd0027"/>
<circle cx="486.7" cy="215.1" r="1.95" fill="#dc0028"/>
<circle cx="492.7" cy="196.5" r="1.95" fill="#d20032"/>
<circle cx="491.4" cy="200.8" r="1.95" fill="#d10033"/>
<circle cx="490.1" cy="204.3" r="1.95" fill="#d00034"/>
<circle cx="489.3" cy="208.3" r="1.95" fill="#ce0036"/>
<circle cx="488.0" cy="212.1" r="1.95" fill="#cd0037"/>
<circle cx="493.6" cy="197.9" r="1.95" fill="#b9004b"/>
<circle cx="492.7" cy="201.8" r="1.95" fill="#b7004d"/>
<circle cx="491.1" cy="205.6" r="1.95" fill="#b5004f"/>
<circle cx="490.0" cy="209.4" r="1.95" fill="#b20052"/>
<circle cx="489.3" cy="213.2" r="1.95" fill="#b00054"/>
<circle cx="495.3" cy="198.7" r="1.95" fill="#9f0065"/>
<circle cx="493.7" cy="202.8" r="1.95" fill="#9c0068"/>
<circle cx="492.0" cy="206.7" r="1.95" fill="#99006b"/>
<circle cx="491.2" cy="210.3" r="1.95" fill="#96006e"/>
<circle cx="490.2" cy="214.1" r="1.95" fill="#930071"/>
<circle cx="485.9" cy="221.0" r="1.95" fill="#da002a"/>
<circle cx="485.1" cy="225.1" r="1.95" fill="#d9002b"/>
<circle cx="484.7" cy="228.6" r="1.95" fill="#d8002c"/>
<circle cx="484.4" cy="232.4" r="1.95" fill="#d7002d"/>
<circle cx="484.0" cy="236.5" r="1.95" fill="#d6002e"/>
<circle cx="483.6" cy="240.8" r="1.95" fill="#d5002f"/>
<circle cx="483.2" cy="244.5" r="1.95" fill="#d5002f"/>
<circle cx="482.6" cy="248.0" r="1.95" fill="#d40030"/>
<circle cx="486.6" cy="222.1" r="1.95" fill="#ba004a"/>
<circle cx="486.5" cy="226.2" r="1.95" fill="#b8004c"/>
<circle cx="486.0" cy="230.3" r="1.95" fill="#b7004d"/>
<circle cx="485.3" cy="233.8" r="1.95" fill="#b5004f"/>
<circle cx="485.2" cy="237.6" r="1.95" fill="#b30051"/>
<circle cx="484.4" cy="241.7" r="1.95" fill="#b10053"/>
<circle cx="484.1" cy="245.6" r="1.95" fill="#af0055"/>
<circle cx="487.9" cy="223.7" r="1.95" fill="#8c0078"/>
<circle cx="487.7" cy="227.3" r="1.95" fill="#89007b"/>
<circle cx="487.3" cy="231.4" r="1.95" fill="#86007e"/>
<circle cx="486.5" cy="235.6" r="1.95" fill="#830081"/>
<circle cx="486.2" cy="239.0" r="1.95" fill="#800084"/>
<circle cx="485.7" cy="243.2" r="1.95" fill="#7d0087"/>
<circle cx="485.7" cy="247.2" r="1.95" fill="#7a008a"/>
<circle cx="481.3" cy="255.6" r="1.95" fill="#d20032"/>
<circle cx="481.0" cy="259.7" r="1.95" fill="#d10033"/>
<circle cx="481.2" cy="263.4" r="1.95" fill="#d00034"/>
<circle cx="481.2" cy="267.4" r="1.95" fill="#cf0035"/>
<circle cx="481.2" cy="271.4" r="1.95" fill="#ce0036"/>
<circle cx="480.6" cy="275.4" r="1.95" fill="#cd0037"/>
<circle cx="480.3" cy="279.1" r="1.95" fill="#cd0037"/>
<circle cx="482.7" cy="256.5" r="1.95" fill="#bd0047"/>
<circle cx="482.4" cy="260.7" r="1.95" fill="#bc0048"/>
<circle cx="482.2" cy="264.5" r="1.95" fill="#ba004a"/>
<circle cx="482.5" cy="268.2" r="1.95" fill="#b9004b"/>
<circle cx="481.9" cy="272.3" r="1.95" fill="#b7004d"/>
<circle cx="481.9" cy="276.3" r="1.95" fill="#b6004e"/>
<circle cx="481.8" cy="279.9" r="1.95" fill="#b6004e"/>
<circle cx="484.1" cy="257.5" r="1.95" fill="#97006d"/>
<circle cx="483.7" cy="261.8" r="1.95" fill="#95006f"/>
<circle cx="483.9" cy="265.6" r="1.95" fill="#930071"/>
<circle cx="483.1" cy="269.6" r="1.95" fill="#900074"/>
<circle cx="483.3" cy="273.2" r="1.95" fill="#8e0076"/>
<circle cx="483.1" cy="277.1" r="1.95" fill="#8d0077"/>
<circle cx="482.6" cy="280.8" r="1.95" fill="#8d0077"/>
<circle cx="485.4" cy="258.3" r="1.95" fill="#710093"/>
<circle cx="485.2" cy="262.7" r="1.95" fill="#6e0096"/>
<circle cx="485.0" cy="266.6" r="1.95" fill="#6b0099"/>
<circle cx="484.7" cy="270.2" r="1.95" fill="#68009c"/>
<circle cx="484.4" cy="274.2" r="1.95" fill="#65009f"/>
<circle cx="484.2" cy="278.1" r="1.95" fill="#6400a0"/>
<circle cx="477.9" cy="287.1" r="1.95" fill="#cd0037"/>
<circle cx="477.8" cy="290.7" r="1.95" fill="#cd0037"/>
<circle cx="477.4" cy="294.5" r="1.95" fill="#cd0037"/>
<circle cx="476.6" cy="298.5" r="1.95" fill="#cd0037"/>
<circle cx="476.5" cy="302.9" r="1.95" fill="#cd0037"/>
<circle cx="476.2" cy="306.4" r="1.95" fill="#cd0037"/>
<circle cx="476.0" cy="310.3" r="1.95" fill="#cd0037"/>
<circle cx="479.0" cy="288.2" r="1.95" fill="#b6004e"/>
<circle cx="478.8" cy="292.0" r="1.95" fill="#b6004e"/>
<circle cx="478.5" cy="296.1" r="1.95" fill="#b6004e"/>
<circle cx="478.0" cy="299.9" r="1.95" fill="#b6004e"/>
<circle cx="477.8" cy="303.8" r="1.95" fill="#b6004e"/>
<circle cx="477.3" cy="307.6" r="1.95" fill="#b6004e"/>
<circle cx="477.0" cy="311.3" r="1.95" fill="#b6004e"/>
<circle cx="480.1" cy="289.0" r="1.95" fill="#8d0077"/>
<circle cx="479.7" cy="293.1" r="1.95" fill="#8d0077"/>
<circle cx="479.4" cy="296.5" r="1.95" fill="#8d0077"/>
<circle cx="479.1" cy="300.9" r="1.95" fill="#8d0077"/>
<circle cx="478.9" cy="304.3" r="1.95" fill="#8d0077"/>
<circle cx="478.3" cy="308.2" r="1.95" fill="#8d0077"/>
<circle cx="481.5" cy="290.0" r="1.95" fill="#6400a0"/>
<circle cx="481.3" cy="294.0" r="1.95" fill="#6400a0"/>
<circle cx="480.7" cy="297.8" r="1.95" fill="#6400a0"/>
<circle cx="480.6" cy="301.8" r="1.95" fill="#6400a0"/>
<circle cx="480.5" cy="305.8" r="1.95" fill="#6400a0"/>
<circle cx="479.6" cy="309.6" r="1.95" fill="#6400a0"/>
<circle cx="474.1" cy="323.6" r="1.95" fill="#cd0037"/>
<circle cx="473.2" cy="327.0" r="1.95" fill="#cd0037"/>
<circle cx="472.7" cy="330.8" r="1.95" fill="#cd0037"/>
<circle cx="472.7" cy="335.2" r="1.95" fill="#cd0037"/>
<circle cx="472.1" cy="339.1" r="1.95" fill="#cd0037"/>
<circle cx="471.7" cy="342.7" r="1.95" fill="#cd0037"/>
<circle cx="474.6" cy="323.8" r="1.95" fill="#c10043"/>
<circle cx="474.5" cy="327.8" r="1.95" fill="#c10043"/>
<circle cx="473.8" cy="331.8" r="1.95" fill="#c10043"/>
<circle cx="473.2" cy="335.6" r="1.95" fill="#c10043"/>
<circle cx="472.9" cy="339.8" r="1.95" fill="#c10043"/>
<circle cx="472.5" cy="343.5" r="1.95" fill="#c10043"/>
<circle cx="476.1" cy="324.9" r="1.95" fill="#a20062"/>
<circle cx="475.6" cy="328.8" r="1.95" fill="#a20062"/>
<circle cx="474.7" cy="332.6" r="1.95" fill="#a20062"/>
<circle cx="474.5" cy="336.7" r="1.95" fill="#a20062"/>
<circle cx="474.0" cy="340.6" r="1.95" fill="#a20062"/>
<circle cx="473.7" cy="344.2" r="1.95" fill="#a20062"/>
<circle cx="477.0" cy="325.4" r="1.95" fill="#830081"/>
<circle cx="476.6" cy="329.3" r="1.95" fill="#830081"/>
<circle cx="475.7" cy="333.3" r="1.95" fill="#830081"/>
<circle cx="475.7" cy="337.6" r="1.95" fill="#830081"/>
<circle cx="474.8" cy="341.2" r="1.95" fill="#830081"/>
<circle cx="474.7" cy="345.3" r="1.95" fill="#830081"/>
<circle cx="477.6" cy="326.4" r="1.95" fill="#6400a0"/>
<circle cx="477.3" cy="330.5" r="1.95" fill="#6400a0"/>
<circle cx="476.8" cy="334.5" r="1.95" fill="#6400a0"/>
<circle cx="476.4" cy="337.9" r="1.95" fill="#6400a0"/>
<circle cx="476.3" cy="342.0" r="1.95" fill="#6400a0"/>
<circle cx="470.0" cy="355.6" r="1.95" fill="#cd0037"/>
<circle cx="469.3" cy="359.6" r="1.95" fill="#cd0037"/>
<circle cx="469.1" cy="363.5" r="1.95" fill="#cd0037"/>
<circle cx="468.4" cy="367.1" r="1.95" fill="#cd0037"/>
<circle cx="467.8" cy="371.0" r="1.95" fill="#cd0037"/>
<circle cx="467.6" cy="374.8" r="1.95" fill="#cd0037"/>
<circle cx="471.6" cy="356.2" r="1.95" fill="#b6004e"/>
<circle cx="470.7" cy="360.2" r="1.95" fill="#b6004e"/>
<circle cx="470.5" cy="364.3" r="1.95" fill="#b6004e"/>
<circle cx="469.7" cy="368.4" r="1.95" fill="#b6004e"/>
<circle cx="469.0" cy="372.1" r="1.95" fill="#b6004e"/>
<circle cx="468.7" cy="376.1" r="1.95" fill="#b6004e"/>
<circle cx="472.8" cy="357.5" r="1.95" fill="#8d0077"/>
<circle cx="472.1" cy="361.2" r="1.95" fill="#8d0077"/>
<circle cx="471.5" cy="365.5" r="1.95" fill="#8d0077"/>
<circle cx="471.2" cy="369.3" r="1.95" fill="#8d0077"/>
<circle cx="470.3" cy="373.0" r="1.95" fill="#8d0077"/>
<circle cx="470.1" cy="377.0" r="1.95" fill="#8d0077"/>
<circle cx="473.7" cy="358.4" r="1.95" fill="#6400a0"/>
<circle cx="473.7" cy="362.2" r="1.95" fill="#6400a0"/>
<circle cx="472.9" cy="366.1" r="1.95" fill="#6400a0"/>
<circle cx="472.5" cy="370.3" r="1.95" fill="#6400a0"/>
<circle cx="471.6" cy="373.8" r="1.95" fill="#6400a0"/>
<circle cx="515.7" cy="227.0" r="1.95" fill="#3700cd"/>
<circle cx="520.7" cy="232.0" r="1.95" fill="#3700cd"/>
<circle cx="518.0" cy="235.0" r="1.95" fill="#3700cd"/>
<circle cx="515.7" cy="238.6" r="1.95" fill="#3700cd"/>
<circle cx="511.4" cy="240.0" r="1.95" fill="#3700cd"/>
<circle cx="507.0" cy="239.3" r="1.95" fill="#3700cd"/>
<circle cx="500.7" cy="238.6" r="1.95" fill="#3700cd"/>
<circle cx="515.7" cy="243.0" r="1.95" fill="#3700cd"/>
<circle cx="510.7" cy="246.4" r="1.95" fill="#3700cd"/>
<circle cx="506.4" cy="244.3" r="1.95" fill="#3700cd"/>
<circle cx="502.9" cy="247.0" r="1.95" fill="#3700cd"/>
<circle cx="497.0" cy="245.0" r="1.95" fill="#3700cd"/>
<circle cx="493.6" cy="240.7" r="1.95" fill="#4d00b9"/>
<circle cx="490.0" cy="237.0" r="1.95" fill="#69009f"/>
<circle cx="490.7" cy="250.7" r="1.95" fill="#6300a4"/>
<circle cx="512.9" cy="252.0" r="1.95" fill="#3700cd"/>
<circle cx="500.7" cy="259.3" r="1.95" fill="#3700cd"/>
<circle cx="503.6" cy="262.9" r="1.95" fill="#3700cd"/>
<circle cx="509.3" cy="262.9" r="1.95" fill="#3700cd"/>
<circle cx="507.9" cy="267.0" r="1.95" fill="#3700cd"/>
<circle cx="505.7" cy="270.7" r="1.95" fill="#3700cd"/>
<circle cx="501.4" cy="272.0" r="1.95" fill="#3700cd"/>
<circle cx="498.6" cy="275.0" r="1.95" fill="#3700cd"/>
<circle cx="494.3" cy="279.3" r="1.95" fill="#3700cd"/>
<circle cx="493.6" cy="282.9" r="1.95" fill="#3700cd"/>
<circle cx="495.7" cy="286.4" r="1.95" fill="#3700cd"/>
<circle cx="500.7" cy="287.9" r="1.95" fill="#3700cd"/>
<circle cx="498.6" cy="291.4" r="1.95" fill="#3700cd"/>
<circle cx="497.9" cy="295.7" r="1.95" fill="#3700cd"/>
<circle cx="496.4" cy="299.3" r="1.95" fill="#3700cd"/>
<circle cx="494.3" cy="302.9" r="1.95" fill="#3700cd"/>
<circle cx="490.0" cy="307.0" r="1.95" fill="#3700cd"/>
<circle cx="493.6" cy="310.7" r="1.95" fill="#3700cd"/>
<circle cx="486.4" cy="312.0" r="1.95" fill="#3700cd"/>
<circle cx="492.9" cy="265.7" r="1.95" fill="#3700cd"/>
<circle cx="485.0" cy="281.7" r="1.95" fill="#3700cd"/>
<circle cx="493.0" cy="281.7" r="1.95" fill="#3700cd"/>
<circle cx="495.0" cy="285.0" r="1.95" fill="#3700cd"/>
<circle cx="500.8" cy="288.3" r="1.95" fill="#3700cd"/>
<circle cx="499.2" cy="293.3" r="1.95" fill="#3700cd"/>
<circle cx="497.5" cy="298.3" r="1.95" fill="#3700cd"/>
<circle cx="495.0" cy="301.7" r="1.95" fill="#3700cd"/>
<circle cx="490.0" cy="306.7" r="1.95" fill="#3700cd"/>
<circle cx="486.7" cy="310.8" r="1.95" fill="#3700cd"/>
<circle cx="493.3" cy="310.8" r="1.95" fill="#3700cd"/>
<circle cx="490.8" cy="314.0" r="1.95" fill="#3700cd"/>
<circle cx="489.2" cy="326.7" r="1.95" fill="#3700cd"/>
<circle cx="487.5" cy="331.7" r="1.95" fill="#3700cd"/>
<circle cx="485.8" cy="336.7" r="1.95" fill="#3700cd"/>
<circle cx="483.3" cy="340.8" r="1.95" fill="#3700cd"/>
<circle cx="483.3" cy="344.0" r="1.95" fill="#3700cd"/>
<circle cx="481.7" cy="360.0" r="1.95" fill="#3700cd"/>
<circle cx="480.0" cy="366.7" r="1.95" fill="#3700cd"/>
<circle cx="478.3" cy="371.7" r="1.95" fill="#3700cd"/>
<circle cx="475.0" cy="375.0" r="1.95" fill="#3700cd"/>
<circle cx="488.0" cy="329.0" r="1.95" fill="#3700cd"/>
<circle cx="486.5" cy="334.0" r="1.95" fill="#3700cd"/>
<circle cx="484.5" cy="338.5" r="1.95" fill="#3700cd"/>
<circle cx="481.0" cy="363.0" r="1.95" fill="#3700cd"/>
<circle cx="479.0" cy="369.0" r="1.95" fill="#3700cd"/>
<circle cx="475.8" cy="316.7" r="1.95" fill="#780091"/>
<circle cx="475.6" cy="352.5" r="1.95" fill="#780091"/>
<circle cx="481.5" cy="352.0" r="1.95" fill="#780091"/>
<circle cx="228.1" cy="177.3" r="1.95" fill="#3400cd"/>
<circle cx="240.5" cy="175.2" r="1.95" fill="#3400cd"/>
<circle cx="252.6" cy="173.4" r="1.95" fill="#3400cd"/>
<circle cx="265.2" cy="173.3" r="1.95" fill="#3400cd"/>
<circle cx="276.8" cy="175.3" r="1.95" fill="#3400cd"/>
<circle cx="289.0" cy="177.0" r="1.95" fill="#3400cd"/>
<circle cx="301.8" cy="175.4" r="1.95" fill="#3400cd"/>
<circle cx="313.9" cy="173.7" r="1.95" fill="#3400cd"/>
<circle cx="325.7" cy="173.8" r="1.95" fill="#3400cd"/>
<circle cx="337.8" cy="176.1" r="1.95" fill="#3400cd"/>
<circle cx="350.2" cy="180.6" r="1.95" fill="#3400cd"/>
<circle cx="362.4" cy="187.6" r="1.95" fill="#3400cd"/>
<circle cx="374.8" cy="198.6" r="1.95" fill="#3400cd"/>
<circle cx="233.3" cy="176.7" r="1.95" fill="#3400cd"/>
<circle cx="245.2" cy="174.9" r="1.95" fill="#3400cd"/>
<circle cx="257.6" cy="173.4" r="1.95" fill="#3400cd"/>
<circle cx="270.1" cy="173.8" r="1.95" fill="#3400cd"/>
<circle cx="282.1" cy="176.4" r="1.95" fill="#3400cd"/>
<circle cx="294.2" cy="176.7" r="1.95" fill="#3400cd"/>
<circle cx="306.6" cy="174.9" r="1.95" fill="#3400cd"/>
<circle cx="318.8" cy="173.9" r="1.95" fill="#3400cd"/>
<circle cx="331.1" cy="174.7" r="1.95" fill="#3400cd"/>
<circle cx="343.1" cy="178.0" r="1.95" fill="#3400cd"/>
<circle cx="355.1" cy="183.6" r="1.95" fill="#3400cd"/>
<circle cx="367.2" cy="190.7" r="1.95" fill="#3400cd"/>
<circle cx="238.4" cy="176.4" r="1.95" fill="#3400cd"/>
<circle cx="250.5" cy="174.4" r="1.95" fill="#3400cd"/>
<circle cx="262.5" cy="173.9" r="1.95" fill="#3400cd"/>
<circle cx="274.9" cy="175.2" r="1.95" fill="#3400cd"/>
<circle cx="287.1" cy="177.7" r="1.95" fill="#3400cd"/>
<circle cx="299.0" cy="176.3" r="1.95" fill="#3400cd"/>
<circle cx="311.6" cy="174.3" r="1.95" fill="#3400cd"/>
<circle cx="323.6" cy="174.2" r="1.95" fill="#3400cd"/>
<circle cx="335.5" cy="175.9" r="1.95" fill="#3400cd"/>
<circle cx="347.8" cy="180.5" r="1.95" fill="#3400cd"/>
<circle cx="360.5" cy="186.4" r="1.95" fill="#3400cd"/>
<circle cx="372.1" cy="196.1" r="1.95" fill="#3400cd"/>
<circle cx="231.0" cy="177.5" r="1.95" fill="#3400cd"/>
<circle cx="243.2" cy="176.3" r="1.95" fill="#3400cd"/>
<circle cx="255.6" cy="174.8" r="1.95" fill="#3400cd"/>
<circle cx="267.5" cy="175.4" r="1.95" fill="#3400cd"/>
<circle cx="279.5" cy="177.0" r="1.95" fill="#3400cd"/>
<circle cx="291.9" cy="178.4" r="1.95" fill="#3400cd"/>
<circle cx="303.9" cy="176.0" r="1.95" fill="#3400cd"/>
<circle cx="316.2" cy="174.1" r="1.95" fill="#3400cd"/>
<circle cx="328.4" cy="174.6" r="1.95" fill="#3400cd"/>
<circle cx="340.4" cy="177.5" r="1.95" fill="#3400cd"/>
<circle cx="352.9" cy="183.0" r="1.95" fill="#3400cd"/>
<circle cx="365.0" cy="189.5" r="1.95" fill="#3400cd"/>
<circle cx="235.7" cy="177.6" r="1.95" fill="#3400cd"/>
<circle cx="248.4" cy="176.5" r="1.95" fill="#3400cd"/>
<circle cx="260.1" cy="175.7" r="1.95" fill="#3400cd"/>
<circle cx="272.4" cy="176.5" r="1.95" fill="#3400cd"/>
<circle cx="284.4" cy="178.7" r="1.95" fill="#3400cd"/>
<circle cx="297.1" cy="177.8" r="1.95" fill="#3400cd"/>
<circle cx="309.1" cy="175.7" r="1.95" fill="#3400cd"/>
<circle cx="321.1" cy="175.0" r="1.95" fill="#3400cd"/>
<circle cx="333.4" cy="175.8" r="1.95" fill="#3400cd"/>
<circle cx="345.9" cy="180.1" r="1.95" fill="#3400cd"/>
<circle cx="357.9" cy="185.6" r="1.95" fill="#3400cd"/>
<circle cx="370.1" cy="194.4" r="1.95" fill="#3400cd"/>
<circle cx="228.9" cy="177.8" r="1.95" fill="#3400cd"/>
<circle cx="241.1" cy="177.8" r="1.95" fill="#3400cd"/>
<circle cx="253.0" cy="177.0" r="1.95" fill="#3400cd"/>
<circle cx="265.2" cy="177.0" r="1.95" fill="#3400cd"/>
<circle cx="277.1" cy="178.6" r="1.95" fill="#3400cd"/>
<circle cx="289.5" cy="179.2" r="1.95" fill="#3400cd"/>
<circle cx="301.7" cy="177.4" r="1.95" fill="#3400cd"/>
<circle cx="314.0" cy="175.8" r="1.95" fill="#3400cd"/>
<circle cx="326.4" cy="175.0" r="1.95" fill="#3400cd"/>
<circle cx="338.8" cy="177.7" r="1.95" fill="#3400cd"/>
<circle cx="350.3" cy="182.8" r="1.95" fill="#3400cd"/>
<circle cx="363.1" cy="189.4" r="1.95" fill="#3400cd"/>
<circle cx="374.8" cy="200.2" r="1.95" fill="#3400cd"/>
<circle cx="233.7" cy="178.2" r="1.95" fill="#3400cd"/>
<circle cx="245.5" cy="179.2" r="1.95" fill="#3400cd"/>
<circle cx="258.1" cy="177.6" r="1.95" fill="#3400cd"/>
<circle cx="269.9" cy="179.0" r="1.95" fill="#3400cd"/>
<circle cx="282.2" cy="180.5" r="1.95" fill="#3400cd"/>
<circle cx="294.5" cy="179.4" r="1.95" fill="#3400cd"/>
<circle cx="307.1" cy="177.5" r="1.95" fill="#3400cd"/>
<circle cx="318.8" cy="176.2" r="1.95" fill="#3400cd"/>
<circle cx="331.3" cy="176.3" r="1.95" fill="#3400cd"/>
<circle cx="343.5" cy="179.9" r="1.95" fill="#3400cd"/>
<circle cx="355.8" cy="185.9" r="1.95" fill="#3400cd"/>
<circle cx="367.6" cy="193.8" r="1.95" fill="#3400cd"/>
<circle cx="238.6" cy="180.1" r="1.95" fill="#3400cd"/>
<circle cx="250.7" cy="180.6" r="1.95" fill="#3400cd"/>
<circle cx="263.0" cy="179.8" r="1.95" fill="#3400cd"/>
<circle cx="275.0" cy="180.6" r="1.95" fill="#3400cd"/>
<circle cx="287.3" cy="181.0" r="1.95" fill="#3400cd"/>
<circle cx="299.5" cy="179.5" r="1.95" fill="#3400cd"/>
<circle cx="311.7" cy="177.5" r="1.95" fill="#3400cd"/>
<circle cx="324.0" cy="176.3" r="1.95" fill="#3400cd"/>
<circle cx="335.8" cy="177.8" r="1.95" fill="#3400cd"/>
<circle cx="348.3" cy="182.6" r="1.95" fill="#3400cd"/>
<circle cx="360.7" cy="189.2" r="1.95" fill="#3400cd"/>
<circle cx="372.7" cy="198.9" r="1.95" fill="#3400cd"/>
<circle cx="215.3" cy="158.8" r="1.95" fill="#6400a0"/>
<circle cx="227.3" cy="157.0" r="1.95" fill="#66009f"/>
<circle cx="239.1" cy="155.3" r="1.95" fill="#68009e"/>
<circle cx="251.7" cy="157.2" r="1.95" fill="#69009e"/>
<circle cx="263.7" cy="157.4" r="1.95" fill="#6b009d"/>
<circle cx="276.0" cy="155.6" r="1.95" fill="#6d009c"/>
<circle cx="288.5" cy="153.9" r="1.95" fill="#6e009c"/>
<circle cx="300.6" cy="154.1" r="1.95" fill="#70009b"/>
<circle cx="312.5" cy="154.0" r="1.95" fill="#71009a"/>
<circle cx="324.7" cy="156.6" r="1.95" fill="#720099"/>
<circle cx="337.0" cy="161.2" r="1.95" fill="#740099"/>
<circle cx="349.0" cy="167.0" r="1.95" fill="#750098"/>
<circle cx="361.3" cy="175.1" r="1.95" fill="#760097"/>
<circle cx="373.8" cy="187.8" r="1.95" fill="#770096"/>
<circle cx="220.2" cy="158.9" r="1.95" fill="#6500a0"/>
<circle cx="232.2" cy="156.8" r="1.95" fill="#67009f"/>
<circle cx="244.4" cy="155.8" r="1.95" fill="#68009e"/>
<circle cx="256.7" cy="157.7" r="1.95" fill="#6a009d"/>
<circle cx="268.6" cy="157.2" r="1.95" fill="#6c009d"/>
<circle cx="280.8" cy="155.4" r="1.95" fill="#6d009c"/>
<circle cx="293.2" cy="154.8" r="1.95" fill="#6f009b"/>
<circle cx="305.0" cy="154.7" r="1.95" fill="#71009b"/>
<circle cx="317.8" cy="155.7" r="1.95" fill="#72009a"/>
<circle cx="329.4" cy="158.9" r="1.95" fill="#730099"/>
<circle cx="341.6" cy="163.9" r="1.95" fill="#740098"/>
<circle cx="354.4" cy="170.9" r="1.95" fill="#750098"/>
<circle cx="366.5" cy="180.6" r="1.95" fill="#770097"/>
<circle cx="378.8" cy="195.1" r="1.95" fill="#780096"/>
<circle cx="225.0" cy="159.3" r="1.95" fill="#66009f"/>
<circle cx="237.2" cy="157.1" r="1.95" fill="#67009f"/>
<circle cx="249.4" cy="156.6" r="1.95" fill="#69009e"/>
<circle cx="261.6" cy="158.0" r="1.95" fill="#6b009d"/>
<circle cx="273.9" cy="157.0" r="1.95" fill="#6c009d"/>
<circle cx="285.7" cy="155.4" r="1.95" fill="#6e009c"/>
<circle cx="298.3" cy="155.5" r="1.95" fill="#70009b"/>
<circle cx="310.4" cy="155.2" r="1.95" fill="#71009a"/>
<circle cx="322.7" cy="158.1" r="1.95" fill="#72009a"/>
<circle cx="334.7" cy="161.7" r="1.95" fill="#730099"/>
<circle cx="346.8" cy="167.5" r="1.95" fill="#750098"/>
<circle cx="359.0" cy="175.0" r="1.95" fill="#760097"/>
<circle cx="371.4" cy="186.6" r="1.95" fill="#770097"/>
<circle cx="217.3" cy="160.8" r="1.95" fill="#6500a0"/>
<circle cx="229.5" cy="158.5" r="1.95" fill="#66009f"/>
<circle cx="242.3" cy="156.5" r="1.95" fill="#68009e"/>
<circle cx="254.5" cy="157.9" r="1.95" fill="#6a009e"/>
<circle cx="266.1" cy="158.4" r="1.95" fill="#6b009d"/>
<circle cx="278.7" cy="157.3" r="1.95" fill="#6d009c"/>
<circle cx="291.2" cy="156.0" r="1.95" fill="#6f009c"/>
<circle cx="303.0" cy="155.6" r="1.95" fill="#70009b"/>
<circle cx="315.4" cy="156.8" r="1.95" fill="#72009a"/>
<circle cx="327.2" cy="160.0" r="1.95" fill="#730099"/>
<circle cx="339.3" cy="165.0" r="1.95" fill="#740099"/>
<circle cx="351.6" cy="171.5" r="1.95" fill="#750098"/>
<circle cx="363.8" cy="180.1" r="1.95" fill="#760097"/>
<circle cx="376.0" cy="192.7" r="1.95" fill="#780096"/>
<circle cx="222.8" cy="161.3" r="1.95" fill="#65009f"/>
<circle cx="235.0" cy="158.6" r="1.95" fill="#67009f"/>
<circle cx="246.7" cy="157.2" r="1.95" fill="#69009e"/>
<circle cx="259.3" cy="158.9" r="1.95" fill="#6a009d"/>
<circle cx="271.6" cy="158.5" r="1.95" fill="#6c009d"/>
<circle cx="283.7" cy="157.3" r="1.95" fill="#6e009c"/>
<circle cx="295.8" cy="156.7" r="1.95" fill="#6f009b"/>
<circle cx="307.8" cy="157.0" r="1.95" fill="#71009a"/>
<circle cx="320.4" cy="158.8" r="1.95" fill="#72009a"/>
<circle cx="332.1" cy="163.0" r="1.95" fill="#730099"/>
<circle cx="344.8" cy="167.8" r="1.95" fill="#740098"/>
<circle cx="356.7" cy="175.3" r="1.95" fill="#760097"/>
<circle cx="368.8" cy="185.5" r="1.95" fill="#770097"/>
<circle cx="215.3" cy="161.0" r="1.95" fill="#6400a0"/>
<circle cx="227.5" cy="161.2" r="1.95" fill="#66009f"/>
<circle cx="239.7" cy="158.6" r="1.95" fill="#68009e"/>
<circle cx="251.7" cy="158.3" r="1.95" fill="#69009e"/>
<circle cx="264.1" cy="159.5" r="1.95" fill="#6b009d"/>
<circle cx="276.4" cy="158.5" r="1.95" fill="#6d009c"/>
<circle cx="288.5" cy="157.7" r="1.95" fill="#6e009c"/>
<circle cx="301.1" cy="157.3" r="1.95" fill="#70009b"/>
<circle cx="313.0" cy="158.2" r="1.95" fill="#71009a"/>
<circle cx="324.8" cy="161.9" r="1.95" fill="#730099"/>
<circle cx="337.5" cy="166.0" r="1.95" fill="#740099"/>
<circle cx="349.4" cy="171.6" r="1.95" fill="#750098"/>
<circle cx="362.1" cy="180.0" r="1.95" fill="#760097"/>
<circle cx="374.0" cy="191.2" r="1.95" fill="#770096"/>
<circle cx="220.2" cy="163.5" r="1.95" fill="#6500a0"/>
<circle cx="232.4" cy="160.8" r="1.95" fill="#67009f"/>
<circle cx="244.8" cy="157.9" r="1.95" fill="#68009e"/>
<circle cx="257.1" cy="158.8" r="1.95" fill="#6a009d"/>
<circle cx="268.8" cy="160.1" r="1.95" fill="#6c009d"/>
<circle cx="281.2" cy="158.7" r="1.95" fill="#6d009c"/>
<circle cx="293.7" cy="158.1" r="1.95" fill="#6f009b"/>
<circle cx="305.4" cy="158.3" r="1.95" fill="#71009b"/>
<circle cx="318.1" cy="160.7" r="1.95" fill="#72009a"/>
<circle cx="330.2" cy="163.9" r="1.95" fill="#730099"/>
<circle cx="342.5" cy="168.9" r="1.95" fill="#740098"/>
<circle cx="354.6" cy="175.7" r="1.95" fill="#750098"/>
<circle cx="366.6" cy="184.4" r="1.95" fill="#770097"/>
<circle cx="378.9" cy="198.0" r="1.95" fill="#780096"/>
<circle cx="212.8" cy="160.8" r="1.95" fill="#6400a0"/>
<circle cx="225.6" cy="163.7" r="1.95" fill="#66009f"/>
<circle cx="237.5" cy="160.9" r="1.95" fill="#67009f"/>
<circle cx="249.6" cy="158.0" r="1.95" fill="#69009e"/>
<circle cx="261.7" cy="160.2" r="1.95" fill="#6b009d"/>
<circle cx="274.3" cy="160.1" r="1.95" fill="#6c009c"/>
<circle cx="286.0" cy="159.2" r="1.95" fill="#6e009c"/>
<circle cx="298.6" cy="157.9" r="1.95" fill="#70009b"/>
<circle cx="310.7" cy="159.8" r="1.95" fill="#71009a"/>
<circle cx="323.1" cy="162.9" r="1.95" fill="#72009a"/>
<circle cx="335.0" cy="166.8" r="1.95" fill="#740099"/>
<circle cx="347.0" cy="171.9" r="1.95" fill="#750098"/>
<circle cx="359.2" cy="179.9" r="1.95" fill="#760097"/>
<circle cx="371.6" cy="190.2" r="1.95" fill="#770097"/>
<circle cx="216.4" cy="166.2" r="1.95" fill="#eb0014"/>
<circle cx="224.0" cy="165.7" r="1.95" fill="#eb0014"/>
<circle cx="230.7" cy="161.9" r="1.95" fill="#eb0014"/>
<circle cx="221.0" cy="160.5" r="1.95" fill="#eb0014"/>
<circle cx="227.0" cy="158.5" r="1.95" fill="#eb0014"/>
<circle cx="234.0" cy="160.0" r="1.95" fill="#eb0014"/>
<circle cx="214.6" cy="162.8" r="1.95" fill="#6400a0"/>
<circle cx="218.3" cy="165.0" r="1.95" fill="#6400a0"/>
<circle cx="221.6" cy="164.3" r="1.95" fill="#6400a0"/>
<circle cx="225.6" cy="163.6" r="1.95" fill="#6400a0"/>
<circle cx="228.6" cy="164.6" r="1.95" fill="#6400a0"/>
<circle cx="232.5" cy="162.2" r="1.95" fill="#6400a0"/>
<circle cx="236.0" cy="162.6" r="1.95" fill="#6400a0"/>
<circle cx="219.8" cy="162.2" r="1.95" fill="#6400a0"/>
<circle cx="223.5" cy="161.5" r="1.95" fill="#6400a0"/>
<circle cx="225.1" cy="143.7" r="1.95" fill="#a00059"/>
<circle cx="237.2" cy="143.0" r="1.95" fill="#a0005b"/>
<circle cx="249.9" cy="142.2" r="1.95" fill="#a0005d"/>
<circle cx="261.5" cy="140.8" r="1.95" fill="#a0005e"/>
<circle cx="274.2" cy="137.7" r="1.95" fill="#a00060"/>
<circle cx="286.3" cy="133.8" r="1.95" fill="#9f0063"/>
<circle cx="298.4" cy="129.1" r="1.95" fill="#9a0069"/>
<circle cx="229.8" cy="144.0" r="1.95" fill="#a0005a"/>
<circle cx="242.6" cy="143.2" r="1.95" fill="#a0005b"/>
<circle cx="254.6" cy="142.4" r="1.95" fill="#a0005d"/>
<circle cx="266.9" cy="139.8" r="1.95" fill="#a0005f"/>
<circle cx="279.3" cy="137.5" r="1.95" fill="#a00061"/>
<circle cx="291.4" cy="133.2" r="1.95" fill="#9d0065"/>
<circle cx="303.2" cy="129.8" r="1.95" fill="#98006c"/>
<circle cx="222.7" cy="144.4" r="1.95" fill="#a00058"/>
<circle cx="234.8" cy="143.7" r="1.95" fill="#a0005a"/>
<circle cx="247.3" cy="143.3" r="1.95" fill="#a0005c"/>
<circle cx="259.5" cy="142.3" r="1.95" fill="#a0005e"/>
<circle cx="272.0" cy="139.2" r="1.95" fill="#a00060"/>
<circle cx="284.0" cy="136.3" r="1.95" fill="#a00062"/>
<circle cx="295.8" cy="133.0" r="1.95" fill="#9b0068"/>
<circle cx="227.7" cy="144.7" r="1.95" fill="#a00059"/>
<circle cx="240.1" cy="144.5" r="1.95" fill="#a0005b"/>
<circle cx="252.4" cy="143.0" r="1.95" fill="#a0005d"/>
<circle cx="264.4" cy="140.8" r="1.95" fill="#a0005f"/>
<circle cx="277.0" cy="139.4" r="1.95" fill="#a00061"/>
<circle cx="288.7" cy="135.3" r="1.95" fill="#9e0064"/>
<circle cx="300.9" cy="133.2" r="1.95" fill="#99006a"/>
<circle cx="220.9" cy="145.9" r="1.95" fill="#a00058"/>
<circle cx="233.0" cy="144.5" r="1.95" fill="#a0005a"/>
<circle cx="245.2" cy="144.2" r="1.95" fill="#a0005c"/>
<circle cx="257.3" cy="143.3" r="1.95" fill="#a0005e"/>
<circle cx="269.1" cy="140.6" r="1.95" fill="#a00060"/>
<circle cx="281.8" cy="138.8" r="1.95" fill="#a00061"/>
<circle cx="293.9" cy="135.4" r="1.95" fill="#9c0067"/>
<circle cx="306.1" cy="135.2" r="1.95" fill="#97006d"/>
<circle cx="225.3" cy="145.5" r="1.95" fill="#a00059"/>
<circle cx="237.6" cy="144.8" r="1.95" fill="#a0005b"/>
<circle cx="249.9" cy="143.7" r="1.95" fill="#a0005d"/>
<circle cx="262.0" cy="142.0" r="1.95" fill="#a0005e"/>
<circle cx="274.5" cy="140.2" r="1.95" fill="#a00060"/>
<circle cx="286.7" cy="137.9" r="1.95" fill="#9f0063"/>
<circle cx="298.4" cy="136.6" r="1.95" fill="#9a0069"/>
<circle cx="230.3" cy="146.0" r="1.95" fill="#a0005a"/>
<circle cx="243.0" cy="145.3" r="1.95" fill="#a0005b"/>
<circle cx="254.6" cy="143.6" r="1.95" fill="#a0005d"/>
<circle cx="266.8" cy="142.3" r="1.95" fill="#a0005f"/>
<circle cx="279.5" cy="140.5" r="1.95" fill="#a00061"/>
<circle cx="291.5" cy="138.0" r="1.95" fill="#9d0065"/>
<circle cx="303.9" cy="138.2" r="1.95" fill="#98006c"/>
<circle cx="223.3" cy="146.3" r="1.95" fill="#a00058"/>
<circle cx="235.3" cy="145.6" r="1.95" fill="#a0005a"/>
<circle cx="247.8" cy="144.9" r="1.95" fill="#a0005c"/>
<circle cx="259.6" cy="143.4" r="1.95" fill="#a0005e"/>
<circle cx="271.9" cy="141.9" r="1.95" fill="#a00060"/>
<circle cx="284.0" cy="140.1" r="1.95" fill="#a00062"/>
<circle cx="296.7" cy="139.0" r="1.95" fill="#9b0068"/>
<circle cx="214.3" cy="152.2" r="1.95" fill="#ff0000"/>
<circle cx="226.6" cy="149.7" r="1.95" fill="#fe0001"/>
<circle cx="238.6" cy="142.0" r="1.95" fill="#fc0003"/>
<circle cx="250.8" cy="131.9" r="1.95" fill="#fb0004"/>
<circle cx="263.4" cy="122.8" r="1.95" fill="#f90006"/>
<circle cx="275.5" cy="117.0" r="1.95" fill="#ef0011"/>
<circle cx="287.5" cy="112.5" r="1.95" fill="#e6001c"/>
<circle cx="299.8" cy="110.6" r="1.95" fill="#e20020"/>
<circle cx="312.4" cy="111.1" r="1.95" fill="#df0024"/>
<circle cx="324.0" cy="114.0" r="1.95" fill="#dd0027"/>
<circle cx="336.8" cy="119.6" r="1.95" fill="#da002a"/>
<circle cx="348.9" cy="128.6" r="1.95" fill="#d7002d"/>
<circle cx="361.2" cy="141.8" r="1.95" fill="#d40030"/>
<circle cx="373.3" cy="158.4" r="1.95" fill="#d10033"/>
<circle cx="219.2" cy="151.6" r="1.95" fill="#fe0001"/>
<circle cx="231.9" cy="147.1" r="1.95" fill="#fd0002"/>
<circle cx="243.6" cy="138.4" r="1.95" fill="#fc0003"/>
<circle cx="256.3" cy="128.3" r="1.95" fill="#fb0004"/>
<circle cx="268.3" cy="121.0" r="1.95" fill="#f5000b"/>
<circle cx="280.2" cy="116.0" r="1.95" fill="#ec0015"/>
<circle cx="292.8" cy="111.8" r="1.95" fill="#e3001f"/>
<circle cx="304.6" cy="110.4" r="1.95" fill="#e10022"/>
<circle cx="317.1" cy="112.5" r="1.95" fill="#de0025"/>
<circle cx="329.1" cy="116.6" r="1.95" fill="#db0028"/>
<circle cx="341.5" cy="123.6" r="1.95" fill="#d9002b"/>
<circle cx="353.9" cy="134.5" r="1.95" fill="#d6002e"/>
<circle cx="365.6" cy="148.3" r="1.95" fill="#d30031"/>
<circle cx="378.2" cy="168.3" r="1.95" fill="#d00034"/>
<circle cx="224.6" cy="150.8" r="1.95" fill="#fe0001"/>
<circle cx="236.8" cy="144.1" r="1.95" fill="#fd0002"/>
<circle cx="249.0" cy="134.9" r="1.95" fill="#fb0004"/>
<circle cx="261.0" cy="125.3" r="1.95" fill="#fa0005"/>
<circle cx="273.5" cy="119.6" r="1.95" fill="#f1000f"/>
<circle cx="285.7" cy="114.5" r="1.95" fill="#e8001a"/>
<circle cx="297.4" cy="112.1" r="1.95" fill="#e20020"/>
<circle cx="309.7" cy="111.4" r="1.95" fill="#e00023"/>
<circle cx="321.9" cy="114.8" r="1.95" fill="#dd0026"/>
<circle cx="333.9" cy="119.7" r="1.95" fill="#da0029"/>
<circle cx="346.4" cy="128.0" r="1.95" fill="#d8002c"/>
<circle cx="358.3" cy="140.8" r="1.95" fill="#d5002f"/>
<circle cx="371.0" cy="155.9" r="1.95" fill="#d20032"/>
<circle cx="382.9" cy="178.9" r="1.95" fill="#cf0035"/>
<circle cx="217.1" cy="153.1" r="1.95" fill="#ff0000"/>
<circle cx="229.0" cy="149.7" r="1.95" fill="#fd0002"/>
<circle cx="241.9" cy="141.3" r="1.95" fill="#fc0003"/>
<circle cx="253.8" cy="131.3" r="1.95" fill="#fb0004"/>
<circle cx="266.0" cy="123.3" r="1.95" fill="#f70009"/>
<circle cx="278.5" cy="117.9" r="1.95" fill="#ed0013"/>
<circle cx="290.1" cy="113.7" r="1.95" fill="#e4001e"/>
<circle cx="302.4" cy="112.2" r="1.95" fill="#e10021"/>
<circle cx="314.4" cy="113.0" r="1.95" fill="#df0024"/>
<circle cx="327.1" cy="116.9" r="1.95" fill="#dc0027"/>
<circle cx="338.8" cy="123.4" r="1.95" fill="#d9002a"/>
<circle cx="351.4" cy="133.0" r="1.95" fill="#d7002d"/>
<circle cx="363.7" cy="146.6" r="1.95" fill="#d40030"/>
<circle cx="376.0" cy="164.9" r="1.95" fill="#d10033"/>
<circle cx="221.8" cy="152.2" r="1.95" fill="#fe0001"/>
<circle cx="234.3" cy="146.8" r="1.95" fill="#fd0002"/>
<circle cx="246.3" cy="137.4" r="1.95" fill="#fc0003"/>
<circle cx="258.6" cy="128.2" r="1.95" fill="#fa0005"/>
<circle cx="271.0" cy="122.3" r="1.95" fill="#f3000d"/>
<circle cx="282.9" cy="116.9" r="1.95" fill="#e90018"/>
<circle cx="295.5" cy="113.3" r="1.95" fill="#e3001f"/>
<circle cx="307.7" cy="112.9" r="1.95" fill="#e00022"/>
<circle cx="319.6" cy="115.2" r="1.95" fill="#de0025"/>
<circle cx="332.1" cy="119.8" r="1.95" fill="#db0028"/>
<circle cx="344.0" cy="127.6" r="1.95" fill="#d8002c"/>
<circle cx="356.5" cy="139.0" r="1.95" fill="#d5002f"/>
<circle cx="368.3" cy="153.4" r="1.95" fill="#d20032"/>
<circle cx="380.7" cy="175.5" r="1.95" fill="#cf0035"/>
<circle cx="215.1" cy="154.0" r="1.95" fill="#ff0000"/>
<circle cx="227.3" cy="151.5" r="1.95" fill="#fe0001"/>
<circle cx="238.9" cy="143.9" r="1.95" fill="#fc0003"/>
<circle cx="251.8" cy="134.5" r="1.95" fill="#fb0004"/>
<circle cx="263.5" cy="126.0" r="1.95" fill="#f90006"/>
<circle cx="275.9" cy="120.3" r="1.95" fill="#ef0011"/>
<circle cx="288.1" cy="115.7" r="1.95" fill="#e6001c"/>
<circle cx="300.2" cy="113.5" r="1.95" fill="#e20021"/>
<circle cx="312.1" cy="113.9" r="1.95" fill="#df0024"/>
<circle cx="325.0" cy="117.6" r="1.95" fill="#dc0027"/>
<circle cx="337.2" cy="123.2" r="1.95" fill="#da002a"/>
<circle cx="349.3" cy="132.2" r="1.95" fill="#d7002d"/>
<circle cx="361.5" cy="145.0" r="1.95" fill="#d40030"/>
<circle cx="373.5" cy="161.5" r="1.95" fill="#d10033"/>
<circle cx="219.9" cy="153.5" r="1.95" fill="#fe0001"/>
<circle cx="232.0" cy="149.4" r="1.95" fill="#fd0002"/>
<circle cx="244.3" cy="140.5" r="1.95" fill="#fc0003"/>
<circle cx="256.4" cy="131.2" r="1.95" fill="#fb0004"/>
<circle cx="268.9" cy="124.3" r="1.95" fill="#f5000b"/>
<circle cx="280.7" cy="119.2" r="1.95" fill="#eb0016"/>
<circle cx="292.7" cy="115.3" r="1.95" fill="#e3001f"/>
<circle cx="305.5" cy="113.9" r="1.95" fill="#e10022"/>
<circle cx="317.2" cy="115.8" r="1.95" fill="#de0025"/>
<circle cx="329.6" cy="119.8" r="1.95" fill="#db0028"/>
<circle cx="341.5" cy="126.4" r="1.95" fill="#d9002b"/>
<circle cx="353.9" cy="137.6" r="1.95" fill="#d6002e"/>
<circle cx="366.1" cy="151.5" r="1.95" fill="#d30031"/>
<circle cx="378.1" cy="171.6" r="1.95" fill="#d00034"/>
<circle cx="225.0" cy="153.0" r="1.95" fill="#fe0001"/>
<circle cx="237.0" cy="146.5" r="1.95" fill="#fd0002"/>
<circle cx="248.9" cy="137.2" r="1.95" fill="#fb0004"/>
<circle cx="261.3" cy="128.6" r="1.95" fill="#fa0005"/>
<circle cx="273.6" cy="122.8" r="1.95" fill="#f1000f"/>
<circle cx="285.6" cy="117.8" r="1.95" fill="#e7001a"/>
<circle cx="297.8" cy="115.2" r="1.95" fill="#e20020"/>
<circle cx="310.1" cy="115.0" r="1.95" fill="#e00023"/>
<circle cx="322.0" cy="117.9" r="1.95" fill="#dd0026"/>
<circle cx="334.8" cy="122.8" r="1.95" fill="#da0029"/>
<circle cx="346.8" cy="131.2" r="1.95" fill="#d8002c"/>
<circle cx="358.8" cy="144.1" r="1.95" fill="#d5002f"/>
<circle cx="371.0" cy="159.0" r="1.95" fill="#d20032"/>
<circle cx="383.1" cy="181.6" r="1.95" fill="#cf0035"/>
<circle cx="228.3" cy="136.7" r="1.95" fill="#e10023"/>
<circle cx="235.5" cy="137.0" r="1.95" fill="#e10023"/>
<circle cx="240.7" cy="134.3" r="1.95" fill="#e10023"/>
<circle cx="246.0" cy="133.0" r="1.95" fill="#e10023"/>
<circle cx="255.5" cy="137.6" r="1.95" fill="#e10023"/>
<circle cx="251.5" cy="140.0" r="1.95" fill="#e10023"/>
<circle cx="271.7" cy="115.3" r="1.95" fill="#e10023"/>
<circle cx="263.9" cy="127.1" r="1.95" fill="#e10023"/>
<circle cx="273.5" cy="123.4" r="1.95" fill="#960070"/>
<circle cx="282.9" cy="120.5" r="1.95" fill="#960070"/>
<circle cx="292.5" cy="117.5" r="1.95" fill="#e10023"/>
<circle cx="302.6" cy="116.6" r="1.95" fill="#960070"/>
<circle cx="312.3" cy="117.3" r="1.95" fill="#e10023"/>
<circle cx="321.8" cy="120.0" r="1.95" fill="#e10023"/>
<circle cx="331.5" cy="123.6" r="1.95" fill="#960070"/>
<circle cx="340.4" cy="129.1" r="1.95" fill="#df0025"/>
<circle cx="350.7" cy="136.5" r="1.95" fill="#9d0069"/>
<circle cx="360.5" cy="147.3" r="1.95" fill="#d7002d"/>
<circle cx="369.9" cy="159.2" r="1.95" fill="#d40030"/>
<circle cx="379.1" cy="176.1" r="1.95" fill="#d00034"/>
<circle cx="267.9" cy="126.0" r="1.95" fill="#960070"/>
<circle cx="277.4" cy="122.4" r="1.95" fill="#960070"/>
<circle cx="287.2" cy="120.5" r="1.95" fill="#960070"/>
<circle cx="296.4" cy="118.2" r="1.95" fill="#960070"/>
<circle cx="305.7" cy="118.5" r="1.95" fill="#960070"/>
<circle cx="315.3" cy="120.5" r="1.95" fill="#de0026"/>
<circle cx="325.6" cy="123.5" r="1.95" fill="#960070"/>
<circle cx="334.6" cy="127.2" r="1.95" fill="#de0026"/>
<circle cx="344.0" cy="132.8" r="1.95" fill="#db0029"/>
<circle cx="354.1" cy="142.5" r="1.95" fill="#d7002d"/>
<circle cx="363.7" cy="153.3" r="1.95" fill="#d30031"/>
<circle cx="373.3" cy="166.3" r="1.95" fill="#d00034"/>
<circle cx="382.8" cy="184.7" r="1.95" fill="#cd0037"/>
<circle cx="271.8" cy="125.2" r="1.95" fill="#960070"/>
<circle cx="280.6" cy="122.2" r="1.95" fill="#960070"/>
<circle cx="290.7" cy="120.7" r="1.95" fill="#960070"/>
<circle cx="300.7" cy="119.9" r="1.95" fill="#dc0028"/>
<circle cx="309.9" cy="121.3" r="1.95" fill="#960070"/>
<circle cx="319.4" cy="123.7" r="1.95" fill="#960070"/>
<circle cx="328.8" cy="127.4" r="1.95" fill="#960070"/>
<circle cx="338.6" cy="130.9" r="1.95" fill="#db0029"/>
<circle cx="348.4" cy="138.1" r="1.95" fill="#d7002d"/>
<circle cx="358.2" cy="147.5" r="1.95" fill="#d30031"/>
<circle cx="367.2" cy="158.6" r="1.95" fill="#a40062"/>
<circle cx="376.7" cy="173.8" r="1.95" fill="#cc0038"/>
<circle cx="265.6" cy="127.4" r="1.95" fill="#d9002b"/>
<circle cx="275.2" cy="123.7" r="1.95" fill="#d9002b"/>
<circle cx="285.0" cy="122.4" r="1.95" fill="#960070"/>
<circle cx="293.8" cy="121.5" r="1.95" fill="#d9002b"/>
<circle cx="304.0" cy="122.1" r="1.95" fill="#d9002b"/>
<circle cx="313.5" cy="123.8" r="1.95" fill="#960070"/>
<circle cx="323.2" cy="126.9" r="1.95" fill="#960070"/>
<circle cx="332.8" cy="130.3" r="1.95" fill="#d9002b"/>
<circle cx="342.0" cy="135.3" r="1.95" fill="#99006d"/>
<circle cx="351.5" cy="142.4" r="1.95" fill="#9e0068"/>
<circle cx="361.8" cy="153.0" r="1.95" fill="#cf0035"/>
<circle cx="370.7" cy="164.5" r="1.95" fill="#cb0039"/>
<circle cx="380.5" cy="182.7" r="1.95" fill="#c8003c"/>
<circle cx="268.9" cy="126.3" r="1.95" fill="#960070"/>
<circle cx="279.2" cy="124.4" r="1.95" fill="#960070"/>
<circle cx="288.3" cy="123.1" r="1.95" fill="#960070"/>
<circle cx="298.4" cy="123.3" r="1.95" fill="#960070"/>
<circle cx="307.5" cy="124.4" r="1.95" fill="#d7002d"/>
<circle cx="316.7" cy="127.2" r="1.95" fill="#960070"/>
<circle cx="326.6" cy="131.0" r="1.95" fill="#d7002d"/>
<circle cx="336.2" cy="134.2" r="1.95" fill="#d6002e"/>
<circle cx="346.0" cy="139.9" r="1.95" fill="#d30031"/>
<circle cx="355.5" cy="148.3" r="1.95" fill="#9f0067"/>
<circle cx="365.0" cy="158.8" r="1.95" fill="#a30063"/>
<circle cx="375.1" cy="172.2" r="1.95" fill="#c7003d"/>
<circle cx="272.8" cy="125.6" r="1.95" fill="#960070"/>
<circle cx="282.3" cy="124.8" r="1.95" fill="#d40030"/>
<circle cx="292.1" cy="124.3" r="1.95" fill="#960070"/>
<circle cx="301.3" cy="124.8" r="1.95" fill="#960070"/>
<circle cx="311.2" cy="126.9" r="1.95" fill="#d40030"/>
<circle cx="320.7" cy="130.1" r="1.95" fill="#960070"/>
<circle cx="330.7" cy="133.9" r="1.95" fill="#960070"/>
<circle cx="340.3" cy="137.1" r="1.95" fill="#98006e"/>
<circle cx="350.0" cy="143.3" r="1.95" fill="#9d0069"/>
<circle cx="359.6" cy="153.6" r="1.95" fill="#cb0039"/>
<circle cx="368.8" cy="164.5" r="1.95" fill="#a50061"/>
<circle cx="379.0" cy="180.2" r="1.95" fill="#c30041"/>
<circle cx="267.0" cy="127.5" r="1.95" fill="#d20032"/>
<circle cx="276.2" cy="126.0" r="1.95" fill="#960070"/>
<circle cx="286.6" cy="125.6" r="1.95" fill="#960070"/>
<circle cx="295.5" cy="126.2" r="1.95" fill="#960070"/>
<circle cx="305.8" cy="127.3" r="1.95" fill="#960070"/>
<circle cx="315.0" cy="130.1" r="1.95" fill="#960070"/>
<circle cx="324.5" cy="134.3" r="1.95" fill="#d20032"/>
<circle cx="334.0" cy="137.2" r="1.95" fill="#d20032"/>
<circle cx="343.5" cy="141.7" r="1.95" fill="#9a006c"/>
<circle cx="353.6" cy="148.4" r="1.95" fill="#9e0068"/>
<circle cx="362.9" cy="158.3" r="1.95" fill="#c7003d"/>
<circle cx="372.2" cy="171.1" r="1.95" fill="#c30041"/>
<circle cx="381.8" cy="189.0" r="1.95" fill="#c00044"/>
<circle cx="270.6" cy="127.7" r="1.95" fill="#960070"/>
<circle cx="280.7" cy="126.8" r="1.95" fill="#cf0035"/>
<circle cx="289.7" cy="126.4" r="1.95" fill="#960070"/>
<circle cx="299.7" cy="128.1" r="1.95" fill="#cf0035"/>
<circle cx="309.3" cy="130.7" r="1.95" fill="#960070"/>
<circle cx="319.0" cy="133.6" r="1.95" fill="#960070"/>
<circle cx="328.0" cy="137.4" r="1.95" fill="#cf0035"/>
<circle cx="338.1" cy="140.8" r="1.95" fill="#ce0036"/>
<circle cx="347.0" cy="145.1" r="1.95" fill="#9c006a"/>
<circle cx="356.9" cy="153.8" r="1.95" fill="#a00066"/>
<circle cx="366.5" cy="164.3" r="1.95" fill="#a40062"/>
<circle cx="376.6" cy="179.0" r="1.95" fill="#bf0045"/>
<circle cx="264.6" cy="128.7" r="1.95" fill="#cd0037"/>
<circle cx="274.2" cy="126.5" r="1.95" fill="#cd0037"/>
<circle cx="284.3" cy="127.3" r="1.95" fill="#cd0037"/>
<circle cx="294.0" cy="128.8" r="1.95" fill="#960070"/>
<circle cx="302.9" cy="130.3" r="1.95" fill="#960070"/>
<circle cx="312.5" cy="134.2" r="1.95" fill="#cd0037"/>
<circle cx="322.0" cy="137.8" r="1.95" fill="#cd0037"/>
<circle cx="332.2" cy="141.2" r="1.95" fill="#960070"/>
<circle cx="341.2" cy="143.9" r="1.95" fill="#99006d"/>
<circle cx="351.6" cy="149.9" r="1.95" fill="#c6003e"/>
<circle cx="361.1" cy="158.9" r="1.95" fill="#c30041"/>
<circle cx="370.0" cy="170.4" r="1.95" fill="#bf0045"/>
<circle cx="380.0" cy="187.1" r="1.95" fill="#be0046"/>
<circle cx="268.8" cy="127.9" r="1.95" fill="#960070"/>
<circle cx="278.4" cy="127.6" r="1.95" fill="#ca003a"/>
<circle cx="288.2" cy="129.0" r="1.95" fill="#960070"/>
<circle cx="297.0" cy="130.6" r="1.95" fill="#960070"/>
<circle cx="306.8" cy="133.4" r="1.95" fill="#960070"/>
<circle cx="316.1" cy="137.3" r="1.95" fill="#960070"/>
<circle cx="325.8" cy="141.3" r="1.95" fill="#ca003a"/>
<circle cx="335.6" cy="144.3" r="1.95" fill="#960070"/>
<circle cx="345.1" cy="147.8" r="1.95" fill="#9b006b"/>
<circle cx="355.0" cy="154.5" r="1.95" fill="#9f0067"/>
<circle cx="364.5" cy="164.2" r="1.95" fill="#bf0045"/>
<circle cx="374.3" cy="177.7" r="1.95" fill="#be0046"/>
<circle cx="384.0" cy="195.5" r="1.95" fill="#be0046"/>
<circle cx="272.0" cy="128.2" r="1.95" fill="#960070"/>
<circle cx="281.4" cy="128.9" r="1.95" fill="#960070"/>
<circle cx="291.6" cy="130.8" r="1.95" fill="#960070"/>
<circle cx="300.8" cy="133.6" r="1.95" fill="#960070"/>
<circle cx="310.3" cy="136.6" r="1.95" fill="#960070"/>
<circle cx="320.7" cy="141.2" r="1.95" fill="#960070"/>
<circle cx="330.0" cy="145.3" r="1.95" fill="#960070"/>
<circle cx="339.0" cy="146.6" r="1.95" fill="#c6003e"/>
<circle cx="348.7" cy="151.2" r="1.95" fill="#c20042"/>
<circle cx="359.0" cy="159.6" r="1.95" fill="#a00066"/>
<circle cx="368.6" cy="170.0" r="1.95" fill="#be0046"/>
<circle cx="377.5" cy="184.8" r="1.95" fill="#be0046"/>
<circle cx="266.6" cy="129.5" r="1.95" fill="#fa0008"/>
<circle cx="275.6" cy="128.9" r="1.95" fill="#fa0008"/>
<circle cx="285.9" cy="130.4" r="1.95" fill="#fa0008"/>
<circle cx="295.4" cy="133.6" r="1.95" fill="#fa0008"/>
<circle cx="304.4" cy="137.0" r="1.95" fill="#fa0008"/>
<circle cx="314.2" cy="140.5" r="1.95" fill="#fa0008"/>
<circle cx="324.2" cy="144.7" r="1.95" fill="#fa0008"/>
<circle cx="333.6" cy="147.7" r="1.95" fill="#fa0008"/>
<circle cx="343.3" cy="150.0" r="1.95" fill="#fa0008"/>
<circle cx="352.7" cy="155.7" r="1.95" fill="#be0046"/>
<circle cx="362.1" cy="164.2" r="1.95" fill="#a20064"/>
<circle cx="372.1" cy="176.2" r="1.95" fill="#a60060"/>
<circle cx="382.0" cy="192.6" r="1.95" fill="#be0046"/>
<circle cx="262.7" cy="126.6" r="1.95" fill="#fc0005"/>
<circle cx="271.2" cy="127.5" r="1.95" fill="#fc0005"/>
<circle cx="279.5" cy="128.8" r="1.95" fill="#fc0006"/>
<circle cx="288.4" cy="130.5" r="1.95" fill="#fb0006"/>
<circle cx="296.6" cy="132.8" r="1.95" fill="#fb0006"/>
<circle cx="305.1" cy="135.9" r="1.95" fill="#fb0007"/>
<circle cx="313.4" cy="139.1" r="1.95" fill="#fb0007"/>
<circle cx="321.8" cy="143.3" r="1.95" fill="#fa0007"/>
<circle cx="330.4" cy="147.1" r="1.95" fill="#fa0008"/>
<circle cx="265.6" cy="127.7" r="1.95" fill="#fc0005"/>
<circle cx="274.2" cy="128.6" r="1.95" fill="#fc0005"/>
<circle cx="282.5" cy="129.9" r="1.95" fill="#fb0006"/>
<circle cx="290.8" cy="131.9" r="1.95" fill="#fb0006"/>
<circle cx="299.4" cy="135.1" r="1.95" fill="#fb0007"/>
<circle cx="308.0" cy="138.1" r="1.95" fill="#fb0007"/>
<circle cx="316.5" cy="141.5" r="1.95" fill="#fb0007"/>
<circle cx="324.7" cy="145.8" r="1.95" fill="#fa0008"/>
<circle cx="332.7" cy="148.3" r="1.95" fill="#fa0008"/>
<circle cx="268.7" cy="128.8" r="1.95" fill="#fc0005"/>
<circle cx="277.0" cy="130.2" r="1.95" fill="#fc0006"/>
<circle cx="285.4" cy="131.6" r="1.95" fill="#fb0006"/>
<circle cx="293.7" cy="133.7" r="1.95" fill="#fb0006"/>
<circle cx="302.4" cy="136.3" r="1.95" fill="#fb0007"/>
<circle cx="310.4" cy="140.0" r="1.95" fill="#fb0007"/>
<circle cx="319.0" cy="143.2" r="1.95" fill="#fa0007"/>
<circle cx="327.5" cy="148.0" r="1.95" fill="#fa0008"/>
<circle cx="326.0" cy="148.3" r="1.95" fill="#f0000f"/>
<circle cx="330.2" cy="149.3" r="1.95" fill="#f0000f"/>
<circle cx="334.5" cy="148.8" r="1.95" fill="#f0000f"/>
<circle cx="343.0" cy="158.8" r="1.95" fill="#f0000f"/>
<circle cx="347.9" cy="158.3" r="1.95" fill="#f0000f"/>
<circle cx="352.6" cy="158.3" r="1.95" fill="#f0000f"/>
<circle cx="342.6" cy="169.8" r="1.95" fill="#f0000f"/>
<circle cx="350.2" cy="172.0" r="1.95" fill="#f0000f"/>
<circle cx="364.5" cy="171.7" r="1.95" fill="#f0000f"/>
<circle cx="368.8" cy="178.8" r="1.95" fill="#f0000f"/>
<circle cx="373.6" cy="181.2" r="1.95" fill="#f0000f"/>
<circle cx="378.3" cy="190.0" r="1.95" fill="#f0000f"/>
<circle cx="372.1" cy="197.9" r="1.95" fill="#3c00c8"/>
<circle cx="374.1" cy="201.7" r="1.95" fill="#3c00c8"/>
<circle cx="376.0" cy="204.9" r="1.95" fill="#3c00c8"/>
<circle cx="377.8" cy="209.2" r="1.95" fill="#3c00c8"/>
<circle cx="380.0" cy="212.1" r="1.95" fill="#3c00c8"/>
<circle cx="382.0" cy="215.8" r="1.95" fill="#3c00c8"/>
<circle cx="382.8" cy="219.6" r="1.95" fill="#3c00c8"/>
<circle cx="384.3" cy="223.2" r="1.95" fill="#3c00c8"/>
<circle cx="374.5" cy="199.0" r="1.95" fill="#5800af"/>
<circle cx="376.5" cy="202.5" r="1.95" fill="#5800af"/>
<circle cx="378.3" cy="206.5" r="1.95" fill="#5800af"/>
<circle cx="379.8" cy="209.9" r="1.95" fill="#5800af"/>
<circle cx="381.6" cy="213.5" r="1.95" fill="#5800af"/>
<circle cx="383.9" cy="217.2" r="1.95" fill="#5800af"/>
<circle cx="385.2" cy="221.0" r="1.95" fill="#5800af"/>
<circle cx="386.0" cy="224.8" r="1.95" fill="#5800af"/>
<circle cx="377.0" cy="200.0" r="1.95" fill="#730096"/>
<circle cx="378.9" cy="203.9" r="1.95" fill="#730096"/>
<circle cx="380.1" cy="208.0" r="1.95" fill="#730096"/>
<circle cx="382.3" cy="211.4" r="1.95" fill="#730096"/>
<circle cx="383.7" cy="215.0" r="1.95" fill="#730096"/>
<circle cx="385.1" cy="218.2" r="1.95" fill="#730096"/>
<circle cx="386.8" cy="221.6" r="1.95" fill="#730096"/>
<circle cx="388.3" cy="225.3" r="1.95" fill="#730096"/>
<circle cx="387.7" cy="232.2" r="1.95" fill="#3c00c8"/>
<circle cx="388.8" cy="235.9" r="1.95" fill="#3c00c8"/>
<circle cx="389.9" cy="239.5" r="1.95" fill="#3c00c8"/>
<circle cx="390.9" cy="243.2" r="1.95" fill="#3c00c8"/>
<circle cx="392.2" cy="246.1" r="1.95" fill="#3c00c8"/>
<circle cx="393.1" cy="249.9" r="1.95" fill="#3c00c8"/>
<circle cx="390.2" cy="233.4" r="1.95" fill="#5800af"/>
<circle cx="391.2" cy="236.5" r="1.95" fill="#5800af"/>
<circle cx="391.7" cy="240.6" r="1.95" fill="#5800af"/>
<circle cx="393.2" cy="244.2" r="1.95" fill="#5800af"/>
<circle cx="393.4" cy="247.7" r="1.95" fill="#5800af"/>
<circle cx="394.4" cy="251.2" r="1.95" fill="#5800af"/>
<circle cx="392.2" cy="234.1" r="1.95" fill="#730096"/>
<circle cx="393.3" cy="238.2" r="1.95" fill="#730096"/>
<circle cx="393.7" cy="241.3" r="1.95" fill="#730096"/>
<circle cx="394.8" cy="245.5" r="1.95" fill="#730096"/>
<circle cx="395.8" cy="248.5" r="1.95" fill="#730096"/>
<circle cx="394.2" cy="258.6" r="1.95" fill="#3c00c8"/>
<circle cx="395.4" cy="262.3" r="1.95" fill="#3c00c8"/>
<circle cx="395.7" cy="266.0" r="1.95" fill="#3c00c8"/>
<circle cx="396.4" cy="269.7" r="1.95" fill="#3c00c8"/>
<circle cx="396.4" cy="273.7" r="1.95" fill="#3c00c8"/>
<circle cx="397.2" cy="277.2" r="1.95" fill="#3c00c8"/>
<circle cx="397.9" cy="281.0" r="1.95" fill="#3c00c8"/>
<circle cx="397.7" cy="284.1" r="1.95" fill="#3c00c8"/>
<circle cx="396.3" cy="260.2" r="1.95" fill="#5800af"/>
<circle cx="397.5" cy="264.1" r="1.95" fill="#5800af"/>
<circle cx="397.3" cy="267.1" r="1.95" fill="#5800af"/>
<circle cx="398.5" cy="271.2" r="1.95" fill="#5800af"/>
<circle cx="398.7" cy="274.6" r="1.95" fill="#5800af"/>
<circle cx="398.9" cy="278.5" r="1.95" fill="#5800af"/>
<circle cx="399.6" cy="282.1" r="1.95" fill="#5800af"/>
<circle cx="400.3" cy="285.0" r="1.95" fill="#5800af"/>
<circle cx="398.4" cy="261.1" r="1.95" fill="#730096"/>
<circle cx="399.5" cy="265.1" r="1.95" fill="#730096"/>
<circle cx="399.3" cy="268.3" r="1.95" fill="#730096"/>
<circle cx="400.2" cy="272.2" r="1.95" fill="#730096"/>
<circle cx="400.9" cy="275.7" r="1.95" fill="#730096"/>
<circle cx="401.2" cy="279.0" r="1.95" fill="#730096"/>
<circle cx="401.8" cy="282.9" r="1.95" fill="#730096"/>
<circle cx="401.8" cy="286.6" r="1.95" fill="#730096"/>
<circle cx="386.6" cy="195.6" r="1.95" fill="#96006e"/>
<circle cx="386.9" cy="199.3" r="1.95" fill="#96006e"/>
<circle cx="388.0" cy="202.2" r="1.95" fill="#96006e"/>
<circle cx="389.2" cy="205.4" r="1.95" fill="#96006e"/>
<circle cx="390.4" cy="208.8" r="1.95" fill="#96006e"/>
<circle cx="391.9" cy="212.4" r="1.95" fill="#96006e"/>
<circle cx="392.4" cy="215.2" r="1.95" fill="#96006e"/>
<circle cx="394.3" cy="218.7" r="1.95" fill="#96006e"/>
<circle cx="388.5" cy="197.2" r="1.95" fill="#af0055"/>
<circle cx="389.4" cy="200.2" r="1.95" fill="#af0055"/>
<circle cx="390.1" cy="203.7" r="1.95" fill="#af0055"/>
<circle cx="391.5" cy="207.0" r="1.95" fill="#af0055"/>
<circle cx="392.5" cy="209.7" r="1.95" fill="#af0055"/>
<circle cx="393.8" cy="213.3" r="1.95" fill="#af0055"/>
<circle cx="394.8" cy="216.4" r="1.95" fill="#af0055"/>
<circle cx="395.9" cy="219.5" r="1.95" fill="#af0055"/>
<circle cx="390.3" cy="197.8" r="1.95" fill="#c8003c"/>
<circle cx="391.2" cy="201.2" r="1.95" fill="#c8003c"/>
<circle cx="392.7" cy="204.5" r="1.95" fill="#c8003c"/>
<circle cx="393.2" cy="207.5" r="1.95" fill="#c8003c"/>
<circle cx="394.3" cy="210.8" r="1.95" fill="#c8003c"/>
<circle cx="395.4" cy="213.7" r="1.95" fill="#c8003c"/>
<circle cx="397.1" cy="217.3" r="1.95" fill="#c8003c"/>
<circle cx="397.9" cy="220.6" r="1.95" fill="#c8003c"/>
<circle cx="396.2" cy="230.7" r="1.95" fill="#96006e"/>
<circle cx="396.9" cy="234.0" r="1.95" fill="#96006e"/>
<circle cx="397.9" cy="237.6" r="1.95" fill="#96006e"/>
<circle cx="398.9" cy="240.9" r="1.95" fill="#96006e"/>
<circle cx="399.4" cy="244.1" r="1.95" fill="#96006e"/>
<circle cx="400.2" cy="246.7" r="1.95" fill="#96006e"/>
<circle cx="400.6" cy="250.3" r="1.95" fill="#96006e"/>
<circle cx="398.9" cy="232.0" r="1.95" fill="#af0055"/>
<circle cx="399.5" cy="235.2" r="1.95" fill="#af0055"/>
<circle cx="400.4" cy="238.1" r="1.95" fill="#af0055"/>
<circle cx="400.8" cy="242.0" r="1.95" fill="#af0055"/>
<circle cx="401.3" cy="244.7" r="1.95" fill="#af0055"/>
<circle cx="401.7" cy="247.8" r="1.95" fill="#af0055"/>
<circle cx="400.4" cy="233.3" r="1.95" fill="#c8003c"/>
<circle cx="401.1" cy="236.3" r="1.95" fill="#c8003c"/>
<circle cx="401.9" cy="239.6" r="1.95" fill="#c8003c"/>
<circle cx="403.1" cy="242.9" r="1.95" fill="#c8003c"/>
<circle cx="403.2" cy="246.1" r="1.95" fill="#c8003c"/>
<circle cx="404.4" cy="249.2" r="1.95" fill="#c8003c"/>
<circle cx="401.5" cy="259.2" r="1.95" fill="#96006e"/>
<circle cx="402.8" cy="262.1" r="1.95" fill="#96006e"/>
<circle cx="403.0" cy="265.2" r="1.95" fill="#96006e"/>
<circle cx="404.0" cy="268.9" r="1.95" fill="#96006e"/>
<circle cx="404.8" cy="272.1" r="1.95" fill="#96006e"/>
<circle cx="405.1" cy="274.9" r="1.95" fill="#96006e"/>
<circle cx="406.2" cy="278.3" r="1.95" fill="#96006e"/>
<circle cx="406.4" cy="281.5" r="1.95" fill="#96006e"/>
<circle cx="406.8" cy="284.2" r="1.95" fill="#96006e"/>
<circle cx="403.8" cy="259.7" r="1.95" fill="#af0055"/>
<circle cx="404.7" cy="263.1" r="1.95" fill="#af0055"/>
<circle cx="405.4" cy="266.5" r="1.95" fill="#af0055"/>
<circle cx="405.9" cy="269.6" r="1.95" fill="#af0055"/>
<circle cx="406.4" cy="273.2" r="1.95" fill="#af0055"/>
<circle cx="407.5" cy="276.5" r="1.95" fill="#af0055"/>
<circle cx="407.7" cy="279.4" r="1.95" fill="#af0055"/>
<circle cx="408.6" cy="282.3" r="1.95" fill="#af0055"/>
<circle cx="408.5" cy="285.4" r="1.95" fill="#af0055"/>
<circle cx="405.6" cy="261.4" r="1.95" fill="#c8003c"/>
<circle cx="406.4" cy="264.6" r="1.95" fill="#c8003c"/>
<circle cx="407.4" cy="267.6" r="1.95" fill="#c8003c"/>
<circle cx="408.3" cy="270.8" r="1.95" fill="#c8003c"/>
<circle cx="409.0" cy="274.0" r="1.95" fill="#c8003c"/>
<circle cx="409.4" cy="277.3" r="1.95" fill="#c8003c"/>
<circle cx="409.8" cy="280.5" r="1.95" fill="#c8003c"/>
<circle cx="410.6" cy="283.8" r="1.95" fill="#c8003c"/>
<circle cx="394.2" cy="223.3" r="1.95" fill="#eb0014"/>
<circle cx="397.5" cy="227.5" r="1.95" fill="#eb0014"/>
<circle cx="393.3" cy="228.7" r="1.95" fill="#eb0014"/>
<circle cx="370.0" cy="200.8" r="1.95" fill="#eb0014"/>
<circle cx="373.5" cy="205.0" r="1.95" fill="#eb0014"/>
<circle cx="377.0" cy="199.0" r="1.95" fill="#eb0014"/>
<circle cx="400.1" cy="292.1" r="1.95" fill="#6900a0"/>
<circle cx="400.6" cy="294.1" r="1.95" fill="#6900a0"/>
<circle cx="400.5" cy="296.2" r="1.95" fill="#6900a0"/>
<circle cx="401.1" cy="298.1" r="1.95" fill="#6900a0"/>
<circle cx="400.8" cy="300.4" r="1.95" fill="#6900a0"/>
<circle cx="401.3" cy="302.6" r="1.95" fill="#6900a0"/>
<circle cx="401.4" cy="304.8" r="1.95" fill="#6900a0"/>
<circle cx="401.5" cy="306.8" r="1.95" fill="#6900a0"/>
<circle cx="401.7" cy="308.6" r="1.95" fill="#6900a0"/>
<circle cx="401.9" cy="310.7" r="1.95" fill="#6900a0"/>
<circle cx="402.3" cy="313.0" r="1.95" fill="#6900a0"/>
<circle cx="405.1" cy="322.2" r="1.95" fill="#6900a0"/>
<circle cx="405.5" cy="323.9" r="1.95" fill="#6900a0"/>
<circle cx="405.7" cy="326.3" r="1.95" fill="#6900a0"/>
<circle cx="406.4" cy="328.1" r="1.95" fill="#6900a0"/>
<circle cx="406.2" cy="330.5" r="1.95" fill="#6900a0"/>
<circle cx="406.6" cy="332.7" r="1.95" fill="#6900a0"/>
<circle cx="407.0" cy="334.7" r="1.95" fill="#6900a0"/>
<circle cx="407.2" cy="336.9" r="1.95" fill="#6900a0"/>
<circle cx="407.5" cy="338.7" r="1.95" fill="#6900a0"/>
<circle cx="408.0" cy="340.7" r="1.95" fill="#6900a0"/>
<circle cx="408.2" cy="342.8" r="1.95" fill="#6900a0"/>
<circle cx="410.3" cy="351.0" r="1.95" fill="#6900a0"/>
<circle cx="410.7" cy="352.9" r="1.95" fill="#6900a0"/>
<circle cx="410.9" cy="355.2" r="1.95" fill="#6900a0"/>
<circle cx="411.5" cy="357.5" r="1.95" fill="#6900a0"/>
<circle cx="411.7" cy="359.3" r="1.95" fill="#6900a0"/>
<circle cx="411.9" cy="361.4" r="1.95" fill="#6900a0"/>
<circle cx="412.3" cy="363.5" r="1.95" fill="#6900a0"/>
<circle cx="412.6" cy="365.8" r="1.95" fill="#6900a0"/>
<circle cx="413.1" cy="367.7" r="1.95" fill="#6900a0"/>
<circle cx="413.7" cy="369.8" r="1.95" fill="#6900a0"/>
<circle cx="413.8" cy="371.8" r="1.95" fill="#6900a0"/>
<circle cx="414.3" cy="374.3" r="1.95" fill="#6900a0"/>
<circle cx="414.4" cy="376.3" r="1.95" fill="#6900a0"/>
<circle cx="415.0" cy="378.2" r="1.95" fill="#6900a0"/>
<circle cx="415.1" cy="380.4" r="1.95" fill="#6900a0"/>
<circle cx="416.0" cy="383.8" r="1.95" fill="#6900a0"/>
<circle cx="416.3" cy="386.1" r="1.95" fill="#6900a0"/>
<circle cx="416.6" cy="388.2" r="1.95" fill="#6900a0"/>
<circle cx="417.3" cy="390.2" r="1.95" fill="#6900a0"/>
<circle cx="417.7" cy="392.3" r="1.95" fill="#6900a0"/>
<circle cx="418.1" cy="394.7" r="1.95" fill="#6900a0"/>
<circle cx="418.2" cy="396.8" r="1.95" fill="#6900a0"/>
<circle cx="419.0" cy="398.6" r="1.95" fill="#6900a0"/>
<circle cx="419.0" cy="400.6" r="1.95" fill="#6900a0"/>
<circle cx="419.9" cy="402.7" r="1.95" fill="#6900a0"/>
<circle cx="420.3" cy="404.8" r="1.95" fill="#6900a0"/>
<circle cx="420.6" cy="406.9" r="1.95" fill="#6900a0"/>
<circle cx="421.3" cy="412.1" r="1.95" fill="#6900a0"/>
<circle cx="421.5" cy="414.0" r="1.95" fill="#6900a0"/>
<circle cx="422.2" cy="416.3" r="1.95" fill="#6900a0"/>
<circle cx="422.4" cy="418.5" r="1.95" fill="#6900a0"/>
<circle cx="422.2" cy="420.3" r="1.95" fill="#6900a0"/>
<circle cx="422.9" cy="422.6" r="1.95" fill="#6900a0"/>
<circle cx="422.7" cy="424.6" r="1.95" fill="#6900a0"/>
<circle cx="423.1" cy="426.7" r="1.95" fill="#6900a0"/>
<circle cx="423.3" cy="428.6" r="1.95" fill="#6900a0"/>
<circle cx="423.9" cy="430.8" r="1.95" fill="#6900a0"/>
<circle cx="424.1" cy="432.8" r="1.95" fill="#6900a0"/>
<circle cx="424.2" cy="434.9" r="1.95" fill="#6900a0"/>
<circle cx="426.0" cy="439.8" r="1.95" fill="#6900a0"/>
<circle cx="426.6" cy="441.9" r="1.95" fill="#6900a0"/>
<circle cx="427.0" cy="444.2" r="1.95" fill="#6900a0"/>
<circle cx="427.2" cy="446.2" r="1.95" fill="#6900a0"/>
<circle cx="427.8" cy="448.6" r="1.95" fill="#6900a0"/>
<circle cx="428.2" cy="450.4" r="1.95" fill="#6900a0"/>
<circle cx="429.0" cy="452.8" r="1.95" fill="#6900a0"/>
<circle cx="429.3" cy="454.6" r="1.95" fill="#6900a0"/>
<circle cx="406.1" cy="287.9" r="1.95" fill="#3c00c8"/>
<circle cx="406.1" cy="291.1" r="1.95" fill="#3c00c8"/>
<circle cx="406.4" cy="294.7" r="1.95" fill="#3c00c8"/>
<circle cx="406.7" cy="298.1" r="1.95" fill="#3c00c8"/>
<circle cx="406.7" cy="301.7" r="1.95" fill="#3c00c8"/>
<circle cx="407.7" cy="305.0" r="1.95" fill="#3c00c8"/>
<circle cx="408.4" cy="308.5" r="1.95" fill="#3c00c8"/>
<circle cx="409.6" cy="312.0" r="1.95" fill="#3c00c8"/>
<circle cx="410.5" cy="315.1" r="1.95" fill="#3c00c8"/>
<circle cx="407.2" cy="288.8" r="1.95" fill="#3c00c8"/>
<circle cx="407.9" cy="292.2" r="1.95" fill="#3c00c8"/>
<circle cx="407.9" cy="295.6" r="1.95" fill="#3c00c8"/>
<circle cx="408.2" cy="299.3" r="1.95" fill="#3c00c8"/>
<circle cx="408.6" cy="302.5" r="1.95" fill="#3c00c8"/>
<circle cx="409.7" cy="305.7" r="1.95" fill="#3c00c8"/>
<circle cx="410.2" cy="309.2" r="1.95" fill="#3c00c8"/>
<circle cx="410.6" cy="312.5" r="1.95" fill="#3c00c8"/>
<circle cx="411.3" cy="316.3" r="1.95" fill="#3c00c8"/>
<circle cx="408.5" cy="289.9" r="1.95" fill="#7d008c"/>
<circle cx="408.8" cy="293.2" r="1.95" fill="#7d008c"/>
<circle cx="409.6" cy="296.6" r="1.95" fill="#7d008c"/>
<circle cx="410.3" cy="299.8" r="1.95" fill="#7d008c"/>
<circle cx="411.1" cy="303.0" r="1.95" fill="#7d008c"/>
<circle cx="411.4" cy="306.9" r="1.95" fill="#7d008c"/>
<circle cx="411.7" cy="310.2" r="1.95" fill="#7d008c"/>
<circle cx="412.4" cy="313.3" r="1.95" fill="#7d008c"/>
<circle cx="412.5" cy="317.0" r="1.95" fill="#7d008c"/>
<circle cx="409.6" cy="290.7" r="1.95" fill="#dc0028"/>
<circle cx="410.6" cy="294.0" r="1.95" fill="#dc0028"/>
<circle cx="411.6" cy="297.5" r="1.95" fill="#dc0028"/>
<circle cx="412.1" cy="300.8" r="1.95" fill="#dc0028"/>
<circle cx="412.8" cy="304.0" r="1.95" fill="#dc0028"/>
<circle cx="413.1" cy="307.4" r="1.95" fill="#dc0028"/>
<circle cx="413.5" cy="310.9" r="1.95" fill="#dc0028"/>
<circle cx="413.3" cy="314.4" r="1.95" fill="#dc0028"/>
<circle cx="413.1" cy="317.6" r="1.95" fill="#dc0028"/>
<circle cx="411.0" cy="325.3" r="1.95" fill="#3c00c8"/>
<circle cx="411.3" cy="328.4" r="1.95" fill="#3c00c8"/>
<circle cx="411.5" cy="332.0" r="1.95" fill="#3c00c8"/>
<circle cx="411.9" cy="335.0" r="1.95" fill="#3c00c8"/>
<circle cx="413.0" cy="338.6" r="1.95" fill="#3c00c8"/>
<circle cx="413.9" cy="342.2" r="1.95" fill="#3c00c8"/>
<circle cx="415.3" cy="345.6" r="1.95" fill="#3c00c8"/>
<circle cx="411.9" cy="325.8" r="1.95" fill="#3c00c8"/>
<circle cx="412.8" cy="329.4" r="1.95" fill="#3c00c8"/>
<circle cx="412.9" cy="332.4" r="1.95" fill="#3c00c8"/>
<circle cx="413.6" cy="335.8" r="1.95" fill="#3c00c8"/>
<circle cx="414.5" cy="339.6" r="1.95" fill="#3c00c8"/>
<circle cx="415.4" cy="342.8" r="1.95" fill="#3c00c8"/>
<circle cx="416.0" cy="346.2" r="1.95" fill="#3c00c8"/>
<circle cx="413.5" cy="326.8" r="1.95" fill="#7d008c"/>
<circle cx="414.1" cy="330.1" r="1.95" fill="#7d008c"/>
<circle cx="415.1" cy="333.7" r="1.95" fill="#7d008c"/>
<circle cx="415.4" cy="337.0" r="1.95" fill="#7d008c"/>
<circle cx="416.1" cy="340.3" r="1.95" fill="#7d008c"/>
<circle cx="416.6" cy="343.6" r="1.95" fill="#7d008c"/>
<circle cx="417.1" cy="347.0" r="1.95" fill="#7d008c"/>
<circle cx="414.2" cy="327.4" r="1.95" fill="#dc0028"/>
<circle cx="415.8" cy="330.7" r="1.95" fill="#dc0028"/>
<circle cx="416.5" cy="334.5" r="1.95" fill="#dc0028"/>
<circle cx="417.2" cy="337.6" r="1.95" fill="#dc0028"/>
<circle cx="417.6" cy="341.4" r="1.95" fill="#dc0028"/>
<circle cx="417.6" cy="344.6" r="1.95" fill="#dc0028"/>
<circle cx="418.1" cy="347.8" r="1.95" fill="#dc0028"/>
<circle cx="416.9" cy="352.2" r="1.95" fill="#3c00c8"/>
<circle cx="417.4" cy="355.3" r="1.95" fill="#3c00c8"/>
<circle cx="417.5" cy="358.8" r="1.95" fill="#3c00c8"/>
<circle cx="418.2" cy="362.3" r="1.95" fill="#3c00c8"/>
<circle cx="418.8" cy="365.5" r="1.95" fill="#3c00c8"/>
<circle cx="419.6" cy="369.2" r="1.95" fill="#3c00c8"/>
<circle cx="420.4" cy="372.3" r="1.95" fill="#3c00c8"/>
<circle cx="421.4" cy="376.1" r="1.95" fill="#3c00c8"/>
<circle cx="422.2" cy="379.5" r="1.95" fill="#3c00c8"/>
<circle cx="423.7" cy="382.5" r="1.95" fill="#3c00c8"/>
<circle cx="418.0" cy="352.7" r="1.95" fill="#3c00c8"/>
<circle cx="418.2" cy="356.4" r="1.95" fill="#3c00c8"/>
<circle cx="419.0" cy="359.7" r="1.95" fill="#3c00c8"/>
<circle cx="419.8" cy="363.3" r="1.95" fill="#3c00c8"/>
<circle cx="420.6" cy="366.2" r="1.95" fill="#3c00c8"/>
<circle cx="421.3" cy="369.8" r="1.95" fill="#3c00c8"/>
<circle cx="422.0" cy="373.5" r="1.95" fill="#3c00c8"/>
<circle cx="422.7" cy="376.6" r="1.95" fill="#3c00c8"/>
<circle cx="423.9" cy="380.0" r="1.95" fill="#3c00c8"/>
<circle cx="424.5" cy="383.5" r="1.95" fill="#3c00c8"/>
<circle cx="419.1" cy="353.8" r="1.95" fill="#7d008c"/>
<circle cx="419.9" cy="357.0" r="1.95" fill="#7d008c"/>
<circle cx="420.3" cy="360.6" r="1.95" fill="#7d008c"/>
<circle cx="421.4" cy="364.1" r="1.95" fill="#7d008c"/>
<circle cx="422.3" cy="367.1" r="1.95" fill="#7d008c"/>
<circle cx="422.7" cy="370.4" r="1.95" fill="#7d008c"/>
<circle cx="423.7" cy="373.9" r="1.95" fill="#7d008c"/>
<circle cx="423.9" cy="377.7" r="1.95" fill="#7d008c"/>
<circle cx="424.8" cy="380.6" r="1.95" fill="#7d008c"/>
<circle cx="425.5" cy="384.4" r="1.95" fill="#7d008c"/>
<circle cx="420.0" cy="354.3" r="1.95" fill="#dc0028"/>
<circle cx="421.2" cy="357.9" r="1.95" fill="#dc0028"/>
<circle cx="422.2" cy="361.6" r="1.95" fill="#dc0028"/>
<circle cx="423.2" cy="365.0" r="1.95" fill="#dc0028"/>
<circle cx="423.6" cy="368.1" r="1.95" fill="#dc0028"/>
<circle cx="424.4" cy="371.3" r="1.95" fill="#dc0028"/>
<circle cx="425.2" cy="374.8" r="1.95" fill="#dc0028"/>
<circle cx="425.3" cy="378.2" r="1.95" fill="#dc0028"/>
<circle cx="425.6" cy="382.0" r="1.95" fill="#dc0028"/>
<circle cx="424.6" cy="387.0" r="1.95" fill="#3c00c8"/>
<circle cx="424.6" cy="390.1" r="1.95" fill="#3c00c8"/>
<circle cx="424.8" cy="394.0" r="1.95" fill="#3c00c8"/>
<circle cx="425.8" cy="397.4" r="1.95" fill="#3c00c8"/>
<circle cx="426.3" cy="400.4" r="1.95" fill="#3c00c8"/>
<circle cx="427.4" cy="404.0" r="1.95" fill="#3c00c8"/>
<circle cx="425.3" cy="387.8" r="1.95" fill="#3c00c8"/>
<circle cx="425.8" cy="391.3" r="1.95" fill="#3c00c8"/>
<circle cx="426.3" cy="394.8" r="1.95" fill="#3c00c8"/>
<circle cx="426.8" cy="398.3" r="1.95" fill="#3c00c8"/>
<circle cx="427.8" cy="401.2" r="1.95" fill="#3c00c8"/>
<circle cx="428.5" cy="404.9" r="1.95" fill="#3c00c8"/>
<circle cx="426.3" cy="388.7" r="1.95" fill="#7d008c"/>
<circle cx="427.0" cy="392.0" r="1.95" fill="#7d008c"/>
<circle cx="428.0" cy="395.4" r="1.95" fill="#7d008c"/>
<circle cx="428.5" cy="399.1" r="1.95" fill="#7d008c"/>
<circle cx="428.9" cy="402.3" r="1.95" fill="#7d008c"/>
<circle cx="427.8" cy="389.5" r="1.95" fill="#dc0028"/>
<circle cx="428.8" cy="392.7" r="1.95" fill="#dc0028"/>
<circle cx="429.2" cy="396.4" r="1.95" fill="#dc0028"/>
<circle cx="429.4" cy="400.0" r="1.95" fill="#dc0028"/>
<circle cx="429.5" cy="403.2" r="1.95" fill="#dc0028"/>
<circle cx="427.8" cy="412.3" r="1.95" fill="#3c00c8"/>
<circle cx="428.8" cy="415.6" r="1.95" fill="#3c00c8"/>
<circle cx="429.6" cy="418.9" r="1.95" fill="#3c00c8"/>
<circle cx="430.7" cy="422.1" r="1.95" fill="#3c00c8"/>
<circle cx="431.5" cy="425.8" r="1.95" fill="#3c00c8"/>
<circle cx="432.7" cy="429.3" r="1.95" fill="#3c00c8"/>
<circle cx="434.1" cy="432.2" r="1.95" fill="#3c00c8"/>
<circle cx="435.5" cy="436.0" r="1.95" fill="#3c00c8"/>
<circle cx="437.6" cy="439.1" r="1.95" fill="#3c00c8"/>
<circle cx="429.0" cy="412.7" r="1.95" fill="#3c00c8"/>
<circle cx="430.2" cy="416.4" r="1.95" fill="#3c00c8"/>
<circle cx="430.8" cy="419.4" r="1.95" fill="#3c00c8"/>
<circle cx="432.2" cy="422.8" r="1.95" fill="#3c00c8"/>
<circle cx="433.4" cy="426.3" r="1.95" fill="#3c00c8"/>
<circle cx="434.3" cy="429.9" r="1.95" fill="#3c00c8"/>
<circle cx="435.6" cy="433.3" r="1.95" fill="#3c00c8"/>
<circle cx="436.8" cy="436.9" r="1.95" fill="#3c00c8"/>
<circle cx="429.9" cy="413.9" r="1.95" fill="#7d008c"/>
<circle cx="431.0" cy="417.3" r="1.95" fill="#7d008c"/>
<circle cx="432.8" cy="420.4" r="1.95" fill="#7d008c"/>
<circle cx="433.4" cy="423.8" r="1.95" fill="#7d008c"/>
<circle cx="434.9" cy="427.1" r="1.95" fill="#7d008c"/>
<circle cx="436.0" cy="430.5" r="1.95" fill="#7d008c"/>
<circle cx="437.0" cy="434.2" r="1.95" fill="#7d008c"/>
<circle cx="438.0" cy="437.6" r="1.95" fill="#7d008c"/>
<circle cx="430.9" cy="414.7" r="1.95" fill="#dc0028"/>
<circle cx="432.4" cy="418.2" r="1.95" fill="#dc0028"/>
<circle cx="434.3" cy="421.6" r="1.95" fill="#dc0028"/>
<circle cx="435.3" cy="424.6" r="1.95" fill="#dc0028"/>
<circle cx="436.3" cy="428.3" r="1.95" fill="#dc0028"/>
<circle cx="437.3" cy="431.8" r="1.95" fill="#dc0028"/>
<circle cx="437.9" cy="434.9" r="1.95" fill="#dc0028"/>
<circle cx="439.2" cy="438.4" r="1.95" fill="#dc0028"/>
<circle cx="438.6" cy="405.8" r="1.95" fill="#f5000a"/>
<circle cx="446.2" cy="403.0" r="1.95" fill="#f5000a"/>
<circle cx="451.1" cy="405.8" r="1.95" fill="#f5000a"/>
<circle cx="456.0" cy="404.9" r="1.95" fill="#f5000a"/>
<circle cx="436.2" cy="413.4" r="1.95" fill="#f5000a"/>
<circle cx="443.8" cy="413.9" r="1.95" fill="#f5000a"/>
<circle cx="448.6" cy="418.7" r="1.95" fill="#f5000a"/>
<circle cx="453.3" cy="419.3" r="1.95" fill="#f5000a"/>
<circle cx="458.4" cy="415.3" r="1.95" fill="#f5000a"/>
<circle cx="441.0" cy="423.4" r="1.95" fill="#f5000a"/>
<circle cx="444.8" cy="429.1" r="1.95" fill="#f5000a"/>
<circle cx="446.0" cy="426.0" r="1.95" fill="#f5000a"/>
<circle cx="461.6" cy="383.8" r="1.95" fill="#ee0012"/>
<circle cx="460.8" cy="387.3" r="1.95" fill="#ee0012"/>
<circle cx="460.8" cy="391.0" r="1.95" fill="#ee0012"/>
<circle cx="459.9" cy="394.5" r="1.95" fill="#ee0012"/>
<circle cx="459.3" cy="397.7" r="1.95" fill="#ee0012"/>
<circle cx="459.4" cy="400.9" r="1.95" fill="#ee0012"/>
<circle cx="462.9" cy="385.2" r="1.95" fill="#ee0012"/>
<circle cx="461.9" cy="388.4" r="1.95" fill="#ee0012"/>
<circle cx="461.6" cy="391.7" r="1.95" fill="#ee0012"/>
<circle cx="461.3" cy="395.1" r="1.95" fill="#ee0012"/>
<circle cx="460.8" cy="398.6" r="1.95" fill="#ee0012"/>
<circle cx="463.5" cy="386.2" r="1.95" fill="#ee0012"/>
<circle cx="463.0" cy="389.6" r="1.95" fill="#ee0012"/>
<circle cx="462.9" cy="393.1" r="1.95" fill="#ee0012"/>
<circle cx="462.2" cy="396.1" r="1.95" fill="#ee0012"/>
<circle cx="461.8" cy="399.6" r="1.95" fill="#ee0012"/>
<circle cx="466.3" cy="382.8" r="1.95" fill="#3c00c8"/>
<circle cx="466.0" cy="385.9" r="1.95" fill="#3c00c8"/>
<circle cx="465.7" cy="389.1" r="1.95" fill="#3c00c8"/>
<circle cx="465.3" cy="391.8" r="1.95" fill="#3c00c8"/>
<circle cx="465.5" cy="394.9" r="1.95" fill="#3c00c8"/>
<circle cx="465.2" cy="398.2" r="1.95" fill="#3c00c8"/>
<circle cx="464.8" cy="400.8" r="1.95" fill="#3c00c8"/>
<circle cx="464.3" cy="404.2" r="1.95" fill="#3c00c8"/>
<circle cx="468.1" cy="384.5" r="1.95" fill="#3c00c8"/>
<circle cx="468.1" cy="387.3" r="1.95" fill="#3c00c8"/>
<circle cx="467.8" cy="390.3" r="1.95" fill="#3c00c8"/>
<circle cx="467.6" cy="393.5" r="1.95" fill="#3c00c8"/>
<circle cx="467.3" cy="396.3" r="1.95" fill="#3c00c8"/>
<circle cx="467.1" cy="399.3" r="1.95" fill="#3c00c8"/>
<circle cx="466.7" cy="402.3" r="1.95" fill="#3c00c8"/>
<circle cx="466.9" cy="405.5" r="1.95" fill="#3c00c8"/>
<circle cx="470.9" cy="382.7" r="1.95" fill="#af0055"/>
<circle cx="470.6" cy="386.0" r="1.95" fill="#af0055"/>
<circle cx="470.2" cy="389.0" r="1.95" fill="#af0055"/>
<circle cx="469.8" cy="391.8" r="1.95" fill="#af0055"/>
<circle cx="469.6" cy="394.8" r="1.95" fill="#af0055"/>
<circle cx="468.9" cy="397.7" r="1.95" fill="#af0055"/>
<circle cx="468.7" cy="401.0" r="1.95" fill="#af0055"/>
<circle cx="468.3" cy="404.2" r="1.95" fill="#af0055"/>
<circle cx="467.9" cy="407.0" r="1.95" fill="#af0055"/>
<circle cx="472.4" cy="384.6" r="1.95" fill="#af0055"/>
<circle cx="472.4" cy="387.6" r="1.95" fill="#af0055"/>
<circle cx="471.6" cy="390.3" r="1.95" fill="#af0055"/>
<circle cx="471.6" cy="393.8" r="1.95" fill="#af0055"/>
<circle cx="471.0" cy="396.6" r="1.95" fill="#af0055"/>
<circle cx="471.0" cy="399.7" r="1.95" fill="#af0055"/>
<circle cx="470.5" cy="402.7" r="1.95" fill="#af0055"/>
<circle cx="470.2" cy="405.8" r="1.95" fill="#af0055"/>
<circle cx="475.0" cy="385.3" r="1.95" fill="#4100c3"/>
<circle cx="474.6" cy="388.1" r="1.95" fill="#4100c3"/>
<circle cx="473.8" cy="391.2" r="1.95" fill="#4100c3"/>
<circle cx="473.6" cy="394.7" r="1.95" fill="#4100c3"/>
<circle cx="472.7" cy="397.7" r="1.95" fill="#4100c3"/>
<circle cx="472.1" cy="400.8" r="1.95" fill="#4100c3"/>
<circle cx="477.3" cy="386.5" r="1.95" fill="#4100c3"/>
<circle cx="477.2" cy="390.1" r="1.95" fill="#4100c3"/>
<circle cx="476.5" cy="393.0" r="1.95" fill="#4100c3"/>
<circle cx="475.7" cy="396.4" r="1.95" fill="#4100c3"/>
<circle cx="475.3" cy="399.6" r="1.95" fill="#4100c3"/>
<circle cx="474.6" cy="402.4" r="1.95" fill="#4100c3"/>
<circle cx="476.0" cy="372.5" r="1.95" fill="#3c00c8"/>
<circle cx="479.0" cy="375.0" r="1.95" fill="#3c00c8"/>
<circle cx="472.5" cy="376.5" r="1.95" fill="#3c00c8"/>
<circle cx="477.0" cy="379.0" r="1.95" fill="#3c00c8"/>
<circle cx="481.0" cy="378.0" r="1.95" fill="#3c00c8"/>
<circle cx="465.6" cy="410.2" r="1.95" fill="#8c0078"/>
<circle cx="464.4" cy="413.8" r="1.95" fill="#8c0078"/>
<circle cx="463.2" cy="417.9" r="1.95" fill="#8c0078"/>
<circle cx="461.6" cy="422.3" r="1.95" fill="#8c0078"/>
<circle cx="460.6" cy="426.1" r="1.95" fill="#8c0078"/>
<circle cx="467.0" cy="411.2" r="1.95" fill="#730091"/>
<circle cx="466.3" cy="415.2" r="1.95" fill="#730091"/>
<circle cx="465.1" cy="419.2" r="1.95" fill="#730091"/>
<circle cx="463.7" cy="423.1" r="1.95" fill="#730091"/>
<circle cx="462.1" cy="427.2" r="1.95" fill="#730091"/>
<circle cx="469.1" cy="412.2" r="1.95" fill="#5a00aa"/>
<circle cx="467.8" cy="416.3" r="1.95" fill="#5a00aa"/>
<circle cx="466.7" cy="420.3" r="1.95" fill="#5a00aa"/>
<circle cx="465.1" cy="424.3" r="1.95" fill="#5a00aa"/>
<circle cx="464.0" cy="427.9" r="1.95" fill="#5a00aa"/>
<circle cx="471.0" cy="412.8" r="1.95" fill="#4100c3"/>
<circle cx="469.6" cy="417.0" r="1.95" fill="#4100c3"/>
<circle cx="468.3" cy="421.0" r="1.95" fill="#4100c3"/>
<circle cx="467.2" cy="425.1" r="1.95" fill="#4100c3"/>
<circle cx="465.6" cy="428.9" r="1.95" fill="#4100c3"/>
<circle cx="421.9" cy="420.7" r="1.95" fill="#6400a0"/>
<circle cx="422.8" cy="424.5" r="1.95" fill="#6400a0"/>
<circle cx="423.6" cy="428.6" r="1.95" fill="#6400a0"/>
<circle cx="424.6" cy="432.5" r="1.95" fill="#6400a0"/>
<circle cx="425.7" cy="436.4" r="1.95" fill="#6400a0"/>
<circle cx="426.8" cy="440.3" r="1.95" fill="#6400a0"/>
<circle cx="427.9" cy="444.3" r="1.95" fill="#6400a0"/>
<circle cx="428.6" cy="448.0" r="1.95" fill="#6400a0"/>
<circle cx="429.3" cy="451.4" r="1.95" fill="#6400a0"/>
<circle cx="430.7" cy="455.7" r="1.95" fill="#6400a0"/>
<circle cx="432.5" cy="458.3" r="1.95" fill="#6400a0"/>
<circle cx="434.3" cy="460.7" r="1.95" fill="#6400a0"/>
<circle cx="435.4" cy="464.0" r="1.95" fill="#6400a0"/>
<circle cx="436.4" cy="467.0" r="1.95" fill="#6400a0"/>
<circle cx="438.5" cy="469.0" r="1.95" fill="#6400a0"/>
<circle cx="440.7" cy="470.3" r="1.95" fill="#6400a0"/>
<circle cx="443.0" cy="468.5" r="1.95" fill="#6400a0"/>
<circle cx="445.0" cy="466.4" r="1.95" fill="#6400a0"/>
<circle cx="446.8" cy="464.6" r="1.95" fill="#6400a0"/>
<circle cx="448.6" cy="462.9" r="1.95" fill="#6400a0"/>
<circle cx="450.3" cy="459.3" r="1.95" fill="#6400a0"/>
<circle cx="452.0" cy="455.7" r="1.95" fill="#6400a0"/>
<circle cx="457.0" cy="461.4" r="1.95" fill="#6400a0"/>
<circle cx="460.0" cy="452.0" r="1.95" fill="#6400a0"/>
<circle cx="462.0" cy="445.0" r="1.95" fill="#6400a0"/>
<circle cx="424.3" cy="418.2" r="1.95" fill="#8c0078"/>
<circle cx="425.2" cy="422.3" r="1.95" fill="#d7002d"/>
<circle cx="425.9" cy="427.1" r="1.95" fill="#3c00c8"/>
<circle cx="427.1" cy="431.5" r="1.95" fill="#3c00c8"/>
<circle cx="427.8" cy="435.6" r="1.95" fill="#8c0078"/>
<circle cx="425.9" cy="419.8" r="1.95" fill="#3c00c8"/>
<circle cx="428.1" cy="423.9" r="1.95" fill="#3c00c8"/>
<circle cx="429.4" cy="428.2" r="1.95" fill="#3c00c8"/>
<circle cx="432.2" cy="432.5" r="1.95" fill="#d7002d"/>
<circle cx="434.3" cy="437.3" r="1.95" fill="#3c00c8"/>
<circle cx="429.3" cy="421.3" r="1.95" fill="#8c0078"/>
<circle cx="431.8" cy="424.9" r="1.95" fill="#3c00c8"/>
<circle cx="434.1" cy="429.6" r="1.95" fill="#d7002d"/>
<circle cx="437.8" cy="433.9" r="1.95" fill="#d7002d"/>
<circle cx="459.6" cy="430.4" r="1.95" fill="#d7002d"/>
<circle cx="457.1" cy="434.7" r="1.95" fill="#3c00c8"/>
<circle cx="455.3" cy="438.1" r="1.95" fill="#8c0078"/>
<circle cx="452.0" cy="442.6" r="1.95" fill="#d7002d"/>
<circle cx="461.1" cy="431.5" r="1.95" fill="#3c00c8"/>
<circle cx="459.7" cy="435.1" r="1.95" fill="#8c0078"/>
<circle cx="456.9" cy="439.6" r="1.95" fill="#3c00c8"/>
<circle cx="455.2" cy="443.6" r="1.95" fill="#d7002d"/>
<circle cx="463.9" cy="432.4" r="1.95" fill="#d7002d"/>
<circle cx="461.8" cy="436.3" r="1.95" fill="#3c00c8"/>
<circle cx="459.7" cy="440.8" r="1.95" fill="#d7002d"/>
<circle cx="458.0" cy="444.8" r="1.95" fill="#8c0078"/>
<circle cx="466.2" cy="433.3" r="1.95" fill="#8c0078"/>
<circle cx="464.7" cy="437.1" r="1.95" fill="#3c00c8"/>
<circle cx="462.9" cy="441.8" r="1.95" fill="#d7002d"/>
<circle cx="431.4" cy="439.5" r="1.95" fill="#8c0078"/>
<circle cx="431.7" cy="442.6" r="1.95" fill="#8c0078"/>
<circle cx="431.4" cy="448.2" r="1.95" fill="#3c00c8"/>
<circle cx="432.5" cy="452.0" r="1.95" fill="#d7002d"/>
<circle cx="434.1" cy="456.0" r="1.95" fill="#8c0078"/>
<circle cx="436.9" cy="460.2" r="1.95" fill="#8c0078"/>
<circle cx="438.4" cy="464.9" r="1.95" fill="#8c0078"/>
<circle cx="436.2" cy="440.8" r="1.95" fill="#8c0078"/>
<circle cx="435.9" cy="444.7" r="1.95" fill="#d7002d"/>
<circle cx="436.6" cy="449.5" r="1.95" fill="#d7002d"/>
<circle cx="436.8" cy="453.6" r="1.95" fill="#3c00c8"/>
<circle cx="438.9" cy="457.6" r="1.95" fill="#d7002d"/>
<circle cx="439.8" cy="462.6" r="1.95" fill="#3c00c8"/>
<circle cx="440.9" cy="465.9" r="1.95" fill="#3c00c8"/>
<circle cx="439.3" cy="441.9" r="1.95" fill="#3c00c8"/>
<circle cx="440.6" cy="447.1" r="1.95" fill="#3c00c8"/>
<circle cx="440.2" cy="451.4" r="1.95" fill="#3c00c8"/>
<circle cx="440.9" cy="455.0" r="1.95" fill="#3c00c8"/>
<circle cx="441.4" cy="459.3" r="1.95" fill="#3c00c8"/>
<circle cx="442.6" cy="463.4" r="1.95" fill="#3c00c8"/>
<circle cx="442.3" cy="467.9" r="1.95" fill="#3c00c8"/>
<circle cx="444.5" cy="439.9" r="1.95" fill="#d7002d"/>
<circle cx="443.7" cy="444.2" r="1.95" fill="#3c00c8"/>
<circle cx="444.3" cy="448.3" r="1.95" fill="#8c0078"/>
<circle cx="444.1" cy="452.2" r="1.95" fill="#8c0078"/>
<circle cx="444.7" cy="456.4" r="1.95" fill="#d7002d"/>
<circle cx="443.9" cy="461.4" r="1.95" fill="#8c0078"/>
<circle cx="443.8" cy="465.4" r="1.95" fill="#3c00c8"/>
<circle cx="449.2" cy="440.8" r="1.95" fill="#3c00c8"/>
<circle cx="447.8" cy="445.5" r="1.95" fill="#3c00c8"/>
<circle cx="448.5" cy="449.6" r="1.95" fill="#8c0078"/>
<circle cx="447.5" cy="453.7" r="1.95" fill="#d7002d"/>
<circle cx="448.3" cy="458.5" r="1.95" fill="#8c0078"/>
<circle cx="446.5" cy="462.5" r="1.95" fill="#8c0078"/>
<circle cx="444.3" cy="466.7" r="1.95" fill="#d7002d"/>
<circle cx="453.3" cy="442.5" r="1.95" fill="#3c00c8"/>
<circle cx="453.0" cy="447.0" r="1.95" fill="#3c00c8"/>
<circle cx="452.2" cy="451.9" r="1.95" fill="#8c0078"/>
<circle cx="451.1" cy="455.0" r="1.95" fill="#3c00c8"/>
<circle cx="449.8" cy="460.4" r="1.95" fill="#3c00c8"/>
<circle cx="447.2" cy="464.1" r="1.95" fill="#8c0078"/>
<circle cx="457.1" cy="440.5" r="1.95" fill="#8c0078"/>
<circle cx="457.5" cy="443.8" r="1.95" fill="#8c0078"/>
<circle cx="456.7" cy="448.6" r="1.95" fill="#8c0078"/>
<circle cx="456.0" cy="453.2" r="1.95" fill="#d7002d"/>
<circle cx="454.4" cy="457.7" r="1.95" fill="#d7002d"/>
<circle cx="451.5" cy="461.8" r="1.95" fill="#3c00c8"/>
<circle cx="447.0" cy="465.2" r="1.95" fill="#8c0078"/>
<circle cx="462.1" cy="441.3" r="1.95" fill="#8c0078"/>
<circle cx="460.6" cy="445.3" r="1.95" fill="#3c00c8"/>
<circle cx="460.6" cy="450.6" r="1.95" fill="#8c0078"/>
<circle cx="458.7" cy="453.9" r="1.95" fill="#3c00c8"/>
<circle cx="456.0" cy="458.1" r="1.95" fill="#d7002d"/>
<circle cx="451.4" cy="462.8" r="1.95" fill="#8c0078"/>
<circle cx="446.6" cy="467.5" r="1.95" fill="#3c00c8"/>
</g>
</svg>
</body></html>
